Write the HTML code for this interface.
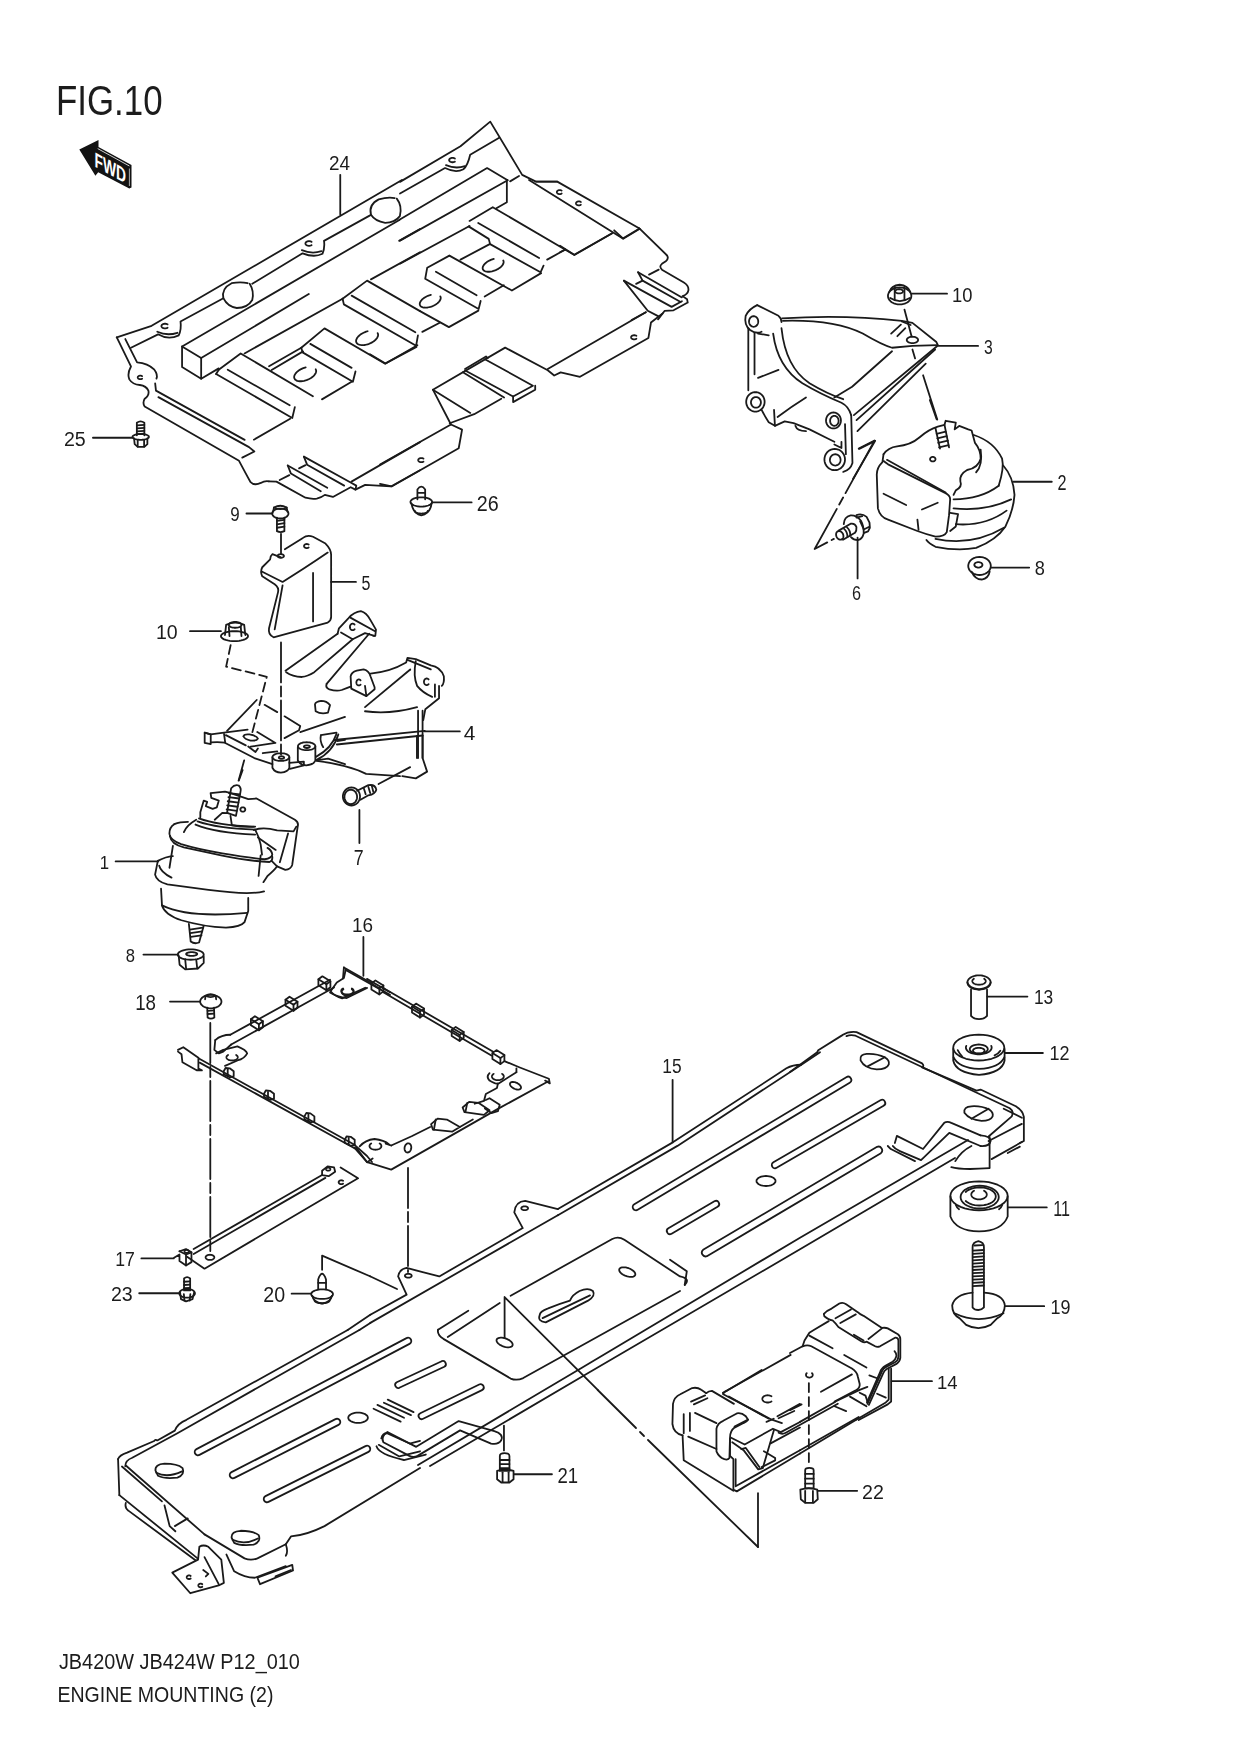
<!DOCTYPE html>
<html><head><meta charset="utf-8">
<style>
html,body{margin:0;padding:0;background:#fff;width:1240px;height:1754px;overflow:hidden}
svg{display:block}
text{font-family:"Liberation Sans",sans-serif;fill:#1a1a1a}
#labels,#texts,#fwd{opacity:0.99}
.l{fill:none;stroke:#1a1a1a;stroke-width:1.8;stroke-linejoin:round;stroke-linecap:round}
.l *{vector-effect:non-scaling-stroke}
.f{fill:#fff}
.t{stroke-width:1.5}
.dl{stroke-dasharray:60 5 8 5}
.dsh{stroke-dasharray:9 5}
.dd{stroke-dasharray:40 4 10 4}
</style></head><body>
<svg width="1240" height="1754" viewBox="0 0 1240 1754">
<g id="texts">
<text transform="translate(56,114.7) scale(1.0001)" font-size="42" textLength="106.6" lengthAdjust="spacingAndGlyphs">FIG.10</text>
<text transform="translate(58.9,1669.2) scale(1.0001)" font-size="21.8" textLength="241" lengthAdjust="spacingAndGlyphs">JB420W JB424W P12_010</text>
<text transform="translate(57.4,1702.1) scale(1.0001)" font-size="21.8" textLength="216" lengthAdjust="spacingAndGlyphs">ENGINE MOUNTING (2)</text>
</g>

<g id="fwd">
<polygon points="79.3,149.4 98.5,140.1 98.5,146.9 131.5,164.9 131.5,187.5 129.3,188.6 98.2,172.3 95.4,175.7" fill="#111"/>
<line x1="97.7" y1="148.6" x2="129.4" y2="166" stroke="#fff" stroke-width="0.8"/>
<line x1="129.4" y1="168.5" x2="129.4" y2="186" stroke="#bbb" stroke-width="0.9"/>
<g transform="translate(94.6,166.4) skewY(28.7) scale(1.0001)"><text x="0" y="0" font-size="21" font-weight="bold" textLength="31.5" lengthAdjust="spacingAndGlyphs" style="fill:#fff">FWD</text></g>
</g>

<g class="l">
<g transform="translate(100,180) scale(0.258065)">
<path d="M1170,0 L200,565 L65,610"/>
<path d="M120,650 L225,598 Q265,622 305,602 Q316,580 312,548 L478,458"/>
<path d="M478,458 Q470,420 510,400 Q545,394 572,400 M580,402 Q598,430 590,465 Q572,496 530,496 Q495,492 478,458"/>
<path d="M590,402 L785,284 Q830,302 862,286 Q872,262 868,236 L1050,135"/>
<path d="M1050,135 Q1040,95 1080,75 Q1115,65 1142,70 M1150,72 Q1172,100 1162,140 Q1142,166 1105,166 Q1066,160 1050,135"/>
<path d="M261.9,572.4 L260.5,573.1 L259.0,573.8 L257.4,574.3 L255.6,574.7 L253.8,574.9 L252.0,575.0 L250.2,574.9 L248.4,574.7 L246.6,574.3 L245.0,573.8 L243.5,573.1 L242.1,572.4 L240.9,571.5 L239.9,570.5 L239.1,569.4 L238.5,568.3 L238.1,567.2 L238.0,566.0 L238.1,564.8 L238.5,563.7 L239.1,562.6 L239.9,561.5 L240.9,560.5 L242.1,559.6 L243.5,558.9 L245.0,558.2 L246.6,557.7 L248.4,557.3 L250.2,557.1 L252.0,557.0 L253.8,557.1 L255.6,557.3 L257.4,557.7 L259.0,558.2 L260.5,558.9 L261.9,559.6"/>
<path d="M819.9,252.4 L818.5,253.1 L817.0,253.8 L815.4,254.3 L813.6,254.7 L811.8,254.9 L810.0,255.0 L808.2,254.9 L806.4,254.7 L804.6,254.3 L803.0,253.8 L801.5,253.1 L800.1,252.4 L798.9,251.5 L797.9,250.5 L797.1,249.4 L796.5,248.3 L796.1,247.2 L796.0,246.0 L796.1,244.8 L796.5,243.7 L797.1,242.6 L797.9,241.5 L798.9,240.5 L800.1,239.6 L801.5,238.9 L803.0,238.2 L804.6,237.7 L806.4,237.3 L808.2,237.1 L810.0,237.0 L811.8,237.1 L813.6,237.3 L815.4,237.7 L817.0,238.2 L818.5,238.9 L819.9,239.6"/>
<path d="M222,588 Q260,605 300,592"/>
<path d="M782,272 Q820,288 858,276"/>
<path d="M318,645 L392,690 L392,770 L318,725 Z"/>
<path d="M318,645 L1160,155"/>
<path d="M392,690 L809,442"/>
<path d="M1159,236 L1240,190"/>
<path d="M392,770 L460,730"/>
<path d="M560,672 L940,460"/>
<path d="M1050,385 L1240,280"/>
<path d="M460,735 L545,672 L825,838"/>
<path d="M450,752 L745,922 L755,880"/>
<path d="M460,735 L450,752"/>
<path d="M495,735 L735,873"/>
<path d="M655,722 L780,650"/>
<path d="M665,736 L787,664"/>
<path d="M860,850 L975,782"/>
<path d="M835.8,733.3 L837.1,736.4 L837.7,739.7 L837.4,743.4 L836.2,747.2 L834.3,751.1 L831.5,755.0 L828.1,758.9 L824.0,762.6 L819.3,766.1 L814.1,769.3 L808.6,772.2 L802.8,774.7 L796.8,776.8 L790.8,778.3 L784.9,779.4 L779.2,779.9 L773.8,779.8 L768.8,779.2 L764.4,778.1 L760.5,776.4 L757.3,774.3 L754.9,771.7 L753.2,768.7 L752.4,765.5 L752.4,761.9 L753.3,758.1 L755.0,754.3 L757.5,750.3 L760.7,746.5 L764.6,742.7 L769.1,739.1 L774.1,735.7 L779.5,732.7 L785.2,730.1 L791.1,727.9 L797.1,726.1"/>
<path d="M1075.8,593.3 L1077.1,596.4 L1077.7,599.7 L1077.4,603.4 L1076.2,607.2 L1074.3,611.1 L1071.5,615.0 L1068.1,618.9 L1064.0,622.6 L1059.3,626.1 L1054.1,629.3 L1048.6,632.2 L1042.8,634.7 L1036.8,636.8 L1030.8,638.3 L1024.9,639.4 L1019.2,639.9 L1013.8,639.8 L1008.8,639.2 L1004.4,638.1 L1000.5,636.4 L997.3,634.3 L994.9,631.7 L993.2,628.7 L992.4,625.5 L992.4,621.9 L993.3,618.1 L995.0,614.3 L997.5,610.3 L1000.7,606.5 L1004.6,602.7 L1009.1,599.1 L1014.1,595.7 L1019.5,592.7 L1025.2,590.1 L1031.1,587.9 L1037.1,586.1"/>
<path d="M780,650 L870,575 L1105,712 L1230,640"/>
<path d="M780,650 L785,668 L980,782 L990,742"/>
<path d="M815,635 L975,728"/>
<path d="M940,460 L1035,390 L1240,508"/>
<path d="M940,460 L945,482 L1225,642 L1232,602"/>
<path d="M975,448 L1222,590"/>
<path d="M931,-20 L931,134"/>
</g>
<g transform="translate(110,310) scale(0.161290)">
<path d="M42,170 L130,350 Q105,395 120,430 Q140,462 185,465 Q225,470 238,500 Q245,530 215,550 Q200,575 215,598 L800,935 Q840,1010 870,1065 Q895,1092 935,1072 Q958,1058 985,1062"/>
<path d="M95,180 L168,325 Q235,330 275,370 Q298,400 288,425"/>
<path d="M280,455 L285,500 L835,805"/>
<path d="M300,540 L862,850 L895,877 L820,915"/>
<path d="M199.3,425.8 L197.7,426.7 L196.0,427.5 L194.1,428.2 L192.1,428.6 L190.1,428.9 L188.0,429.0 L185.9,428.9 L183.9,428.6 L181.9,428.2 L180.0,427.5 L178.3,426.7 L176.7,425.8 L175.3,424.7 L174.1,423.5 L173.2,422.2 L172.5,420.8 L172.1,419.4 L172.0,418.0 L172.1,416.6 L172.5,415.2 L173.2,413.8 L174.1,412.5 L175.3,411.3 L176.7,410.2 L178.3,409.3 L180.0,408.5 L181.9,407.8 L183.9,407.4 L185.9,407.1 L188.0,407.0 L190.1,407.1 L192.1,407.4 L194.1,407.8 L196.0,408.5 L197.7,409.3 L199.3,410.2"/>
</g>
<g transform="translate(400,110) scale(0.241937)">
<path d="M0,297 L250,150 L373,48 L505,268 L562,296 L650,296"/>
<path d="M410,115 L290,185 Q280,230 262,245 Q230,262 186,240 L0,345"/>
<path d="M226.9,213.4 L225.5,214.1 L224.0,214.8 L222.4,215.3 L220.6,215.7 L218.8,215.9 L217.0,216.0 L215.2,215.9 L213.4,215.7 L211.6,215.3 L210.0,214.8 L208.5,214.1 L207.1,213.4 L205.9,212.5 L204.9,211.5 L204.1,210.4 L203.5,209.3 L203.1,208.2 L203.0,207.0 L203.1,205.8 L203.5,204.7 L204.1,203.6 L204.9,202.5 L205.9,201.5 L207.1,200.6 L208.5,199.9 L210.0,199.2 L211.6,198.7 L213.4,198.3 L215.2,198.1 L217.0,198.0 L218.8,198.1 L220.6,198.3 L222.4,198.7 L224.0,199.2 L225.5,199.9 L226.9,200.6"/>
<path d="M190,228 Q230,245 268,232"/>
<path d="M-2.5,454 L360,240 L445,290"/>
<path d="M445,290 L0,540"/>
<path d="M455,295 L492,273"/>
</g>
<g transform="translate(400,180) scale(0.201613)">
<path d="M530,0 L530,110 L478,140"/>
<path d="M345,228 L0,415"/>
<path d="M345,203 L460,135 L865,372 L1050,265"/>
<path d="M388,213 L690,387"/>
<path d="M340,230 L440,292 L447,318 L697,458 L712,425"/>
<path d="M730,395 L820,345"/>
<path d="M300,395 L445,318"/>
<path d="M245,375 L135,435 L125,490 L390,640 L400,600"/>
<path d="M245,375 L555,548 L700,462"/>
<path d="M178,455 L380,572"/>
<path d="M420,578 L515,522"/>
<path d="M511.9,399.2 L513.5,402.8 L514.1,406.8 L513.6,411.1 L512.1,415.6 L509.7,420.2 L506.3,424.8 L502.0,429.4 L497.0,433.9 L491.2,438.1 L484.9,442.0 L478.1,445.5 L471.0,448.5 L463.7,451.1 L456.4,453.0 L449.2,454.3 L442.3,455.0 L435.7,455.1 L429.7,454.5 L424.3,453.2 L419.6,451.4 L415.8,448.9 L412.9,445.9 L411.0,442.5 L410.0,438.6 L410.1,434.4 L411.2,430.0 L413.4,425.4 L416.4,420.8 L420.4,416.1 L425.2,411.6 L430.7,407.3 L436.9,403.3 L443.5,399.7 L450.5,396.4 L457.8,393.7 L465.1,391.6"/>
<path d="M199.9,577.2 L201.5,580.8 L202.1,584.8 L201.6,589.1 L200.1,593.6 L197.7,598.2 L194.3,602.8 L190.0,607.4 L185.0,611.9 L179.2,616.1 L172.9,620.0 L166.1,623.5 L159.0,626.5 L151.7,629.1 L144.4,631.0 L137.2,632.3 L130.3,633.0 L123.7,633.1 L117.7,632.5 L112.3,631.2 L107.6,629.4 L103.8,626.9 L100.9,623.9 L99.0,620.5 L98.0,616.6 L98.1,612.4 L99.2,608.0 L101.4,603.4 L104.4,598.8 L108.4,594.1 L113.2,589.6 L118.7,585.3 L124.9,581.3 L131.5,577.7 L138.5,574.4 L145.8,571.7 L153.1,569.6"/>
<path d="M675,8 L780,8 L1188,241"/>
<path d="M640,0 L1105,290 L1188,241"/>
<path d="M801.9,67.1 L800.5,67.9 L799.0,68.7 L797.4,69.2 L795.6,69.7 L793.8,69.9 L792.0,70.0 L790.2,69.9 L788.4,69.7 L786.6,69.2 L785.0,68.7 L783.5,67.9 L782.1,67.1 L780.9,66.1 L779.9,65.0 L779.1,63.8 L778.5,62.6 L778.1,61.3 L778.0,60.0 L778.1,58.7 L778.5,57.4 L779.1,56.2 L779.9,55.0 L780.9,53.9 L782.1,52.9 L783.5,52.1 L785.0,51.3 L786.6,50.8 L788.4,50.3 L790.2,50.1 L792.0,50.0 L793.8,50.1 L795.6,50.3 L797.4,50.8 L799.0,51.3 L800.5,52.1 L801.9,52.9"/>
<path d="M896.9,123.1 L895.5,123.9 L894.0,124.7 L892.4,125.2 L890.6,125.7 L888.8,125.9 L887.0,126.0 L885.2,125.9 L883.4,125.7 L881.6,125.2 L880.0,124.7 L878.5,123.9 L877.1,123.1 L875.9,122.1 L874.9,121.0 L874.1,119.8 L873.5,118.6 L873.1,117.3 L873.0,116.0 L873.1,114.7 L873.5,113.4 L874.1,112.2 L874.9,111.0 L875.9,109.9 L877.1,108.9 L878.5,108.1 L880.0,107.3 L881.6,106.8 L883.4,106.3 L885.2,106.1 L887.0,106.0 L888.8,106.1 L890.6,106.3 L892.4,106.8 L894.0,107.3 L895.5,108.1 L896.9,108.9"/>
</g>
<g transform="translate(560,200) scale(0.129032)">
<path d="M615,220 L830,430 Q845,455 820,475 L790,495 Q765,515 790,540 L960,640 Q1000,665 995,700 Q990,730 950,745 L985,770 L990,795 L880,855 L810,860 L760,925"/>
<path d="M420,235 L490,300 L615,225"/>
<path d="M0,355 L110,425 L405,258"/>
<path d="M0,405 L40,385"/>
<path d="M605,560 L945,755"/>
<path d="M605,560 L640,625 L935,790"/>
<path d="M495,625 L865,828 L945,785"/>
<path d="M495,625 L680,858 L760,900"/>
<path d="M590,650 L640,625"/>
<path d="M690,578 L765,540"/>
<path d="M555,930 L665,870"/>
</g>
<g transform="translate(380,280) scale(0.258065)">
<path d="M0,790 L45,800 L305,652 L318,580 L275,560 L0,715"/>
<path d="M275,560 L205,425 L485,262 L650,350 L675,370 L700,358 L775,375 L1040,225 L1050,165 L1095,130"/>
<path d="M650,345 L1030,125"/>
<path d="M270,555 L365,520 L470,460"/>
<path d="M205,425 L350,515"/>
<path d="M168.5,703.7 L167.3,704.3 L166.0,704.9 L164.6,705.4 L163.1,705.7 L161.6,705.9 L160.0,706.0 L158.4,705.9 L156.9,705.7 L155.4,705.4 L154.0,704.9 L152.7,704.3 L151.5,703.7 L150.5,702.9 L149.6,702.0 L148.9,701.1 L148.4,700.1 L148.1,699.0 L148.0,698.0 L148.1,697.0 L148.4,695.9 L148.9,694.9 L149.6,694.0 L150.5,693.1 L151.5,692.3 L152.7,691.7 L154.0,691.1 L155.4,690.6 L156.9,690.3 L158.4,690.1 L160.0,690.0 L161.6,690.1 L163.1,690.3 L164.6,690.6 L166.0,691.1 L167.3,691.7 L168.5,692.3"/>
<path d="M993.5,227.7 L992.3,228.3 L991.0,228.9 L989.6,229.4 L988.1,229.7 L986.6,229.9 L985.0,230.0 L983.4,229.9 L981.9,229.7 L980.4,229.4 L979.0,228.9 L977.7,228.3 L976.5,227.7 L975.5,226.9 L974.6,226.0 L973.9,225.1 L973.4,224.1 L973.1,223.0 L973.0,222.0 L973.1,221.0 L973.4,219.9 L973.9,218.9 L974.6,218.0 L975.5,217.1 L976.5,216.3 L977.7,215.7 L979.0,215.1 L980.4,214.6 L981.9,214.3 L983.4,214.1 L985.0,214.0 L986.6,214.1 L988.1,214.3 L989.6,214.6 L991.0,215.1 L992.3,215.7 L993.5,216.3"/>
</g>
<g transform="translate(220,380) scale(0.161290)">
<path d="M210,370 L435,240"/>
<path d="M303,628 L350,630 L530,730 Q570,740 600,735 Q630,728 650,712 L700,725 L810,665 L840,680 L900,650 L1060,660 L1240,560"/>
<path d="M420,530 L440,580 L625,690"/>
<path d="M420,530 L665,668"/>
<path d="M520,475 L540,525 L770,655"/>
<path d="M520,475 L810,635 L845,655 L840,680"/>
<path d="M815,630 L1240,385"/>
<path d="M370,620 L430,590"/>
<path d="M490,548 L530,528"/>
</g>
<g><path d="M420,311.1 L448.9,327.1 L478.4,310.6"/><path d="M422.3,331.9 L439.7,322.7"/><path d="M370,354.2 L385.5,363.4 L416.5,346.9"/><path d="M484.9,359.2 L532.9,385.7 L513.1,396.5 L465.2,370.5"/><path d="M513.1,396.5 L513.1,402.1 L535.2,389.7 L535.2,385.7"/><path d="M462.9,372.2 L504.1,397.6"/><path d="M487.7,358.1 L486,356.5 L465,369"/></g>
</g>
<g class="l">
<g transform="translate(735,275) scale(0.177431)">
<path d="M125,170 Q80,190 60,230 Q50,280 85,310 Q120,335 150,320"/>
<path d="M131.0,262.0 L130.6,267.2 L129.4,272.3 L127.5,277.0 L124.9,281.3 L121.7,285.0 L118.0,288.0 L113.9,290.2 L109.5,291.5 L105.0,292.0 L100.5,291.5 L96.1,290.2 L92.0,288.0 L88.3,285.0 L85.1,281.3 L82.5,277.0 L80.6,272.3 L79.4,267.2 L79.0,262.0 L79.4,256.8 L80.6,251.8 L82.5,247.0 L85.1,242.7 L88.3,239.0 L92.0,236.0 L96.1,233.8 L100.5,232.5 L105.0,232.0 L109.5,232.4 L113.9,233.8 L118.0,236.0 L121.7,239.0 L124.9,242.7 L127.5,247.0 L129.4,251.7 L130.6,256.7 L131.0,261.9 Z"/>
<path d="M125,170 L245,230 Q262,245 262,265"/>
<path d="M265,245 Q600,222 940,258 L1000,270 L1135,378 L1145,398"/>
<path d="M270,258 Q560,250 720,330 Q830,395 885,410 L1000,400 L1140,395"/>
<path d="M215,330 Q240,520 380,610 Q480,670 600,720 Q640,740 655,790"/>
<path d="M262,300 Q285,520 420,610 Q520,670 610,700"/>
<path d="M1140,400 L670,790"/>
<path d="M1128,420 L685,818"/>
<path d="M1075,500 L690,880"/>
<path d="M885,430 L660,630 L560,690"/>
<path d="M1032.0,366.0 L1031.5,369.1 L1030.1,372.2 L1027.7,375.0 L1024.5,377.6 L1020.6,379.8 L1016.0,381.6 L1011.0,382.9 L1005.6,383.7 L1000.0,384.0 L994.5,383.7 L989.1,382.9 L984.0,381.6 L979.4,379.8 L975.5,377.6 L972.3,375.0 L969.9,372.2 L968.5,369.1 L968.0,366.0 L968.5,362.9 L969.9,359.9 L972.3,357.0 L975.5,354.4 L979.4,352.2 L984.0,350.4 L989.0,349.1 L994.4,348.3 L1000.0,348.0 L1005.5,348.3 L1010.9,349.1 L1016.0,350.4 L1020.5,352.2 L1024.5,354.4 L1027.7,357.0 L1030.1,359.8 L1031.5,362.8 L1032.0,366.0 Z"/>
<path d="M940,262 L990,282"/>
<path d="M880,330 L935,280"/>
<path d="M915,345 L960,300"/>
<path d="M75,300 L75,650"/>
<path d="M110,330 L110,560"/>
<path d="M130,580 L245,535"/>
<path d="M130,330 L190,340"/>
<path d="M167.0,715.0 L166.2,724.5 L163.9,733.8 L160.0,742.5 L154.8,750.3 L148.4,757.1 L141.0,762.6 L132.8,766.7 L124.0,769.2 L115.0,770.0 L106.0,769.2 L97.2,766.7 L89.0,762.6 L81.6,757.2 L75.2,750.4 L70.0,742.5 L66.1,733.9 L63.8,724.6 L63.0,715.0 L63.8,705.5 L66.1,696.2 L69.9,687.5 L75.1,679.7 L81.5,672.9 L88.9,667.4 L97.2,663.3 L105.9,660.8 L114.9,660.0 L124.0,660.8 L132.7,663.3 L140.9,667.3 L148.4,672.8 L154.8,679.6 L160.0,687.4 L163.8,696.1 L166.2,705.4 L167.0,714.9 Z"/>
<path d="M146.0,718.0 L145.6,723.2 L144.3,728.3 L142.3,733.0 L139.5,737.3 L136.0,741.0 L132.0,744.0 L127.6,746.2 L122.9,747.5 L118.0,748.0 L113.2,747.5 L108.4,746.2 L104.0,744.0 L100.0,741.0 L96.6,737.3 L93.8,733.0 L91.7,728.3 L90.4,723.2 L90.0,718.0 L90.4,712.8 L91.7,707.8 L93.7,703.0 L96.5,698.7 L100.0,695.0 L104.0,692.0 L108.4,689.8 L113.1,688.5 L118.0,688.0 L122.8,688.4 L127.5,689.8 L132.0,692.0 L136.0,695.0 L139.4,698.7 L142.2,703.0 L144.3,707.7 L145.6,712.7 L146.0,717.9 Z"/>
<path d="M150,760 Q170,800 190,830 L225,850 L280,825 L330,835 L420,870 L520,920 L560,940"/>
<path d="M220,760 L225,850"/>
<path d="M240,800 Q320,740 400,690"/>
<path d="M597.0,820.0 L596.4,827.8 L594.5,835.4 L591.4,842.5 L587.2,848.9 L582.0,854.5 L576.0,859.0 L569.4,862.3 L562.3,864.3 L555.0,865.0 L547.7,864.3 L540.7,862.3 L534.0,859.0 L528.0,854.5 L522.8,848.9 L518.6,842.5 L515.5,835.4 L513.6,827.9 L513.0,820.0 L513.6,812.2 L515.5,804.7 L518.6,797.5 L522.8,791.1 L528.0,785.6 L534.0,781.1 L540.6,777.7 L547.7,775.7 L554.9,775.0 L562.2,775.7 L569.3,777.7 L575.9,781.0 L581.9,785.5 L587.1,791.0 L591.3,797.4 L594.4,804.5 L596.3,812.1 L597.0,819.9 Z"/>
<path d="M584.0,822.0 L583.6,826.9 L582.6,831.6 L580.8,836.0 L578.4,840.0 L575.4,843.4 L572.0,846.2 L568.2,848.3 L564.2,849.6 L560.0,850.0 L555.8,849.6 L551.8,848.3 L548.0,846.3 L544.6,843.5 L541.6,840.0 L539.2,836.0 L537.5,831.6 L536.4,826.9 L536.0,822.0 L536.4,817.2 L537.4,812.4 L539.2,808.0 L541.6,804.0 L544.6,800.6 L548.0,797.8 L551.8,795.7 L555.8,794.4 L560.0,794.0 L564.1,794.4 L568.2,795.7 L572.0,797.7 L575.4,800.5 L578.4,804.0 L580.8,808.0 L582.5,812.4 L583.6,817.1 L584.0,822.0 Z"/>
<path d="M620.0,1040.0 L619.1,1050.4 L616.5,1060.5 L612.2,1070.0 L606.4,1078.6 L599.3,1086.0 L591.0,1092.0 L581.9,1096.4 L572.1,1099.1 L562.0,1100.0 L552.0,1099.1 L542.2,1096.4 L533.0,1092.0 L524.7,1086.0 L517.6,1078.6 L511.8,1070.0 L507.5,1060.6 L504.9,1050.5 L504.0,1040.1 L504.9,1029.6 L507.5,1019.5 L511.7,1010.1 L517.5,1001.5 L524.7,994.1 L532.9,988.1 L542.1,983.6 L551.9,980.9 L561.9,980.0 L572.0,980.9 L581.8,983.6 L590.9,988.0 L599.2,994.0 L606.4,1001.4 L612.2,1009.9 L616.5,1019.4 L619.1,1029.5 L620.0,1039.9 Z"/>
<path d="M595.0,1042.0 L594.5,1047.6 L593.2,1052.9 L591.0,1058.0 L588.0,1062.6 L584.3,1066.5 L580.0,1069.7 L575.3,1072.1 L570.2,1073.5 L565.0,1074.0 L559.8,1073.5 L554.8,1072.1 L550.0,1069.7 L545.7,1066.5 L542.0,1062.6 L539.0,1058.0 L536.8,1053.0 L535.5,1047.6 L535.0,1042.0 L535.5,1036.5 L536.8,1031.1 L539.0,1026.0 L542.0,1021.5 L545.7,1017.5 L550.0,1014.3 L554.7,1011.9 L559.8,1010.5 L565.0,1010.0 L570.2,1010.5 L575.2,1011.9 L580.0,1014.3 L584.2,1017.5 L588.0,1021.4 L591.0,1026.0 L593.2,1031.0 L594.5,1036.4 L595.0,1041.9 Z"/>
<path d="M655,790 L662,1060 Q650,1100 610,1110"/>
<path d="M600,940 L600,975 L560,955"/>
<path d="M620,840 L625,1010"/>
<path d="M340,850 Q350,880 400,880"/>
<path d="M955,195 L995,345"/>
<path d="M1150,400 L1370,400"/>
<path d="M1000,420 L1015,470"/>
<path d="M1060,565 L1140,815"/>
<path d="M665,1150 L790,935 L700,980"/>
</g>
<g transform="translate(735,275) scale(0.177431)">
<path d="M994.0,118.0 L993.0,126.3 L990.0,134.4 L985.2,142.0 L978.6,148.8 L970.4,154.8 L961.0,159.6 L950.6,163.1 L939.5,165.3 L928.0,166.0 L916.6,165.3 L905.5,163.1 L895.0,159.6 L885.6,154.8 L877.5,148.9 L870.9,142.0 L866.0,134.5 L863.0,126.4 L862.0,118.0 L863.0,109.7 L866.0,101.6 L870.8,94.0 L877.4,87.2 L885.5,81.3 L894.9,76.5 L905.4,72.9 L916.5,70.7 L927.9,70.0 L939.4,70.7 L950.5,72.9 L960.9,76.4 L970.3,81.2 L978.5,87.1 L985.1,93.9 L990.0,101.5 L993.0,109.6 L994.0,117.9 Z"/>
<path d="M870,95 Q880,60 928,55 Q975,60 988,95"/>
<path d="M947.0,92.0 L946.7,94.1 L945.7,96.1 L944.1,98.0 L941.9,99.7 L939.1,101.2 L936.0,102.4 L932.5,103.3 L928.8,103.8 L925.0,104.0 L921.2,103.8 L917.5,103.3 L914.0,102.4 L910.9,101.2 L908.2,99.7 L906.0,98.0 L904.3,96.1 L903.3,94.1 L903.0,92.0 L903.3,89.9 L904.3,87.9 L905.9,86.0 L908.1,84.3 L910.8,82.8 L914.0,81.6 L917.5,80.7 L921.2,80.2 L925.0,80.0 L928.8,80.2 L932.5,80.7 L936.0,81.6 L939.1,82.8 L941.8,84.3 L944.0,86.0 L945.7,87.9 L946.7,89.9 L947.0,92.0 Z"/>
<path d="M875,130 Q928,165 985,130"/>
<path d="M900,70 L900,140"/>
<path d="M955,70 L955,140"/>
<path d="M995,105 L1195,105"/>
</g>
<g transform="translate(800,400) scale(0.225805)">
<path d="M370,240 Q390,210 430,205 Q490,200 530,165 Q570,130 610,118 L640,110 L645,92 L690,100 L685,130 L705,115 L745,130 L760,135 L775,190 Q800,220 800,260 Q790,300 740,310 Q705,330 710,360 Q720,385 690,400 L680,420"/>
<path d="M370,240 L365,275 Q340,300 340,330 L345,480 Q355,520 390,530 L520,580 Q560,595 600,605 Q640,605 650,585 L660,510 L665,440 Q665,420 640,410 L390,285 Q375,275 370,270"/>
<path d="M385,265 L645,410"/>
<path d="M370,415 L470,465"/>
<path d="M540,485 L610,455"/>
<path d="M520,530 L525,575"/>
<path d="M770,155 Q860,185 895,260 Q905,300 880,380"/>
<path d="M800,220 Q810,290 780,320"/>
<path d="M900,290 Q945,340 950,420 Q945,490 910,560 Q870,620 780,655 Q700,670 600,650 Q570,635 560,620"/>
<path d="M680,440 Q800,440 880,380"/>
<path d="M680,480 Q820,495 935,440"/>
<path d="M690,550 Q820,560 915,490"/>
<path d="M600,615 Q760,650 905,565"/>
<path d="M665,500 L700,505 L690,560 L665,580"/>
<path d="M600,125 L620,215"/>
<path d="M640,110 L660,210"/>
<path d="M605,150 L645,140"/>
<path d="M608,170 L650,160"/>
<path d="M612,190 L655,180"/>
<path d="M616,210 L658,200"/>
<path d="M600.0,262.0 L599.8,263.7 L599.3,265.4 L598.4,267.0 L597.2,268.4 L595.7,269.7 L594.0,270.7 L592.1,271.4 L590.1,271.8 L588.0,272.0 L585.9,271.8 L583.9,271.4 L582.0,270.7 L580.3,269.7 L578.8,268.4 L577.6,267.0 L576.7,265.4 L576.2,263.7 L576.0,262.0 L576.2,260.3 L576.7,258.6 L577.6,257.0 L578.8,255.6 L580.3,254.3 L582.0,253.3 L583.9,252.6 L585.9,252.2 L588.0,252.0 L590.1,252.1 L592.1,252.6 L594.0,253.3 L595.7,254.3 L597.2,255.6 L598.4,257.0 L599.3,258.6 L599.8,260.2 L600.0,262.0 Z"/>
<path d="M945,362 L1115,362"/>
<path d="M575,0 L605,85"/>
<path d="M255,610 L255,790"/>
<path class="dl" d="M330,180 L65,660 L150,615"/>
<path class="dl" d="M330,180 L260,215"/>
<path d="M845.0,735.0 L844.2,741.9 L842.0,748.7 L838.3,755.0 L833.3,760.7 L827.1,765.6 L820.0,769.6 L812.1,772.6 L803.7,774.4 L795.0,775.0 L786.3,774.4 L777.9,772.6 L770.0,769.7 L762.9,765.7 L756.7,760.7 L751.7,755.0 L748.0,748.7 L745.8,742.0 L745.0,735.0 L745.8,728.1 L748.0,721.4 L751.7,715.0 L756.7,709.3 L762.8,704.4 L769.9,700.4 L777.8,697.4 L786.3,695.6 L794.9,695.0 L803.6,695.6 L812.0,697.4 L819.9,700.3 L827.1,704.3 L833.3,709.2 L838.3,714.9 L842.0,721.3 L844.2,728.0 L845.0,734.9 Z"/>
<path d="M808.0,730.0 L807.7,732.1 L806.9,734.1 L805.6,736.0 L803.8,737.7 L801.6,739.2 L799.0,740.4 L796.2,741.3 L793.1,741.8 L790.0,742.0 L786.9,741.8 L783.9,741.3 L781.0,740.4 L778.4,739.2 L776.2,737.7 L774.4,736.0 L773.1,734.1 L772.3,732.1 L772.0,730.0 L772.3,727.9 L773.1,725.9 L774.4,724.0 L776.2,722.3 L778.4,720.8 L781.0,719.6 L783.8,718.7 L786.9,718.2 L790.0,718.0 L793.1,718.2 L796.1,718.7 L799.0,719.6 L801.5,720.8 L803.8,722.3 L805.6,724.0 L806.9,725.9 L807.7,727.9 L808.0,730.0 Z"/>
<path d="M760,760 Q775,795 805,795 Q835,790 840,760"/>
<path d="M845,742 L1015,742"/>
</g>
<g transform="translate(810,490) scale(0.072569)">
<path d="M465,470 Q470,370 560,350 Q640,345 700,420 Q745,500 740,600 Q720,680 660,690 Q600,690 565,650"/>
<path d="M640,345 Q720,320 780,370 L820,450 L825,520 L800,570 L745,590"/>
<path d="M640,380 L720,360"/>
<path d="M740,545 L810,510"/>
<path d="M690,430 L740,540"/>
<path d="M453.5,604.7 L457.4,614.8 L459.8,625.2 L460.8,635.5 L460.2,645.6 L458.0,655.0 L454.5,663.5 L449.5,670.9 L443.4,676.8 L436.2,681.2 L428.3,683.9 L419.8,684.7 L411.0,683.8 L402.1,681.1 L393.6,676.7 L385.5,670.7 L378.1,663.3 L371.7,654.8 L366.5,645.3 L362.6,635.3 L360.2,624.9 L359.2,614.5 L359.8,604.5 L361.9,595.1 L365.5,586.5 L370.5,579.2 L376.6,573.2 L383.7,568.8 L391.7,566.2 L400.2,565.3 L409.0,566.2 L417.8,568.9 L426.4,573.3 L434.5,579.3 L441.9,586.6 L448.2,595.2 L453.5,604.6 Z"/>
<path d="M395,560 L560,465 Q620,455 640,510 Q645,560 620,590 L455,685"/>
<path d="M470,535 Q520,580 515,650"/>
<path d="M510,515 Q560,560 555,630"/>
</g>
</g>
<g class="l">
<g transform="translate(190,495) scale(0.225805)">
<path d="M436.0,82.0 L435.5,85.8 L433.8,89.5 L431.2,93.0 L427.6,96.1 L423.1,98.8 L418.0,101.0 L412.3,102.7 L406.3,103.7 L400.0,104.0 L393.8,103.7 L387.7,102.7 L382.0,101.1 L376.9,98.9 L372.4,96.2 L368.8,93.0 L366.2,89.5 L364.6,85.8 L364.0,82.0 L364.5,78.2 L366.2,74.5 L368.8,71.0 L372.4,67.9 L376.8,65.2 L382.0,63.0 L387.6,61.3 L393.7,60.3 L400.0,60.0 L406.2,60.3 L412.3,61.3 L418.0,62.9 L423.1,65.1 L427.5,67.8 L431.1,71.0 L433.8,74.4 L435.4,78.1 L436.0,82.0 Z"/>
<path d="M368,75 L372,55 Q400,40 428,55 L432,75"/>
<path d="M372,55 Q400,70 428,55"/>
<path d="M385,100 L385,160 Q400,168 418,160 L418,100"/>
<path d="M385,115 L418,110"/>
<path d="M385,130 L418,125"/>
<path d="M385,145 L418,140"/>
<path d="M250,82 L365,82"/>
<path d="M403,172 L403,262"/>
<path d="M420,240 L500,190 Q520,175 545,185 L600,215 Q625,240 625,265 L625,540 Q625,555 610,565 L370,630 Q345,620 350,590 L390,430 Q395,410 375,395 L320,360 Q310,340 320,320 L355,285 Q355,270 365,262 L400,275"/>
<path d="M416.0,270.0 L415.8,271.4 L415.2,272.7 L414.1,274.0 L412.7,275.1 L411.0,276.1 L409.0,276.9 L406.8,277.5 L404.4,277.9 L402.0,278.0 L399.6,277.9 L397.2,277.5 L395.0,276.9 L393.0,276.1 L391.3,275.1 L389.9,274.0 L388.8,272.7 L388.2,271.4 L388.0,270.0 L388.2,268.6 L388.8,267.3 L389.9,266.0 L391.3,264.9 L393.0,263.9 L395.0,263.1 L397.2,262.5 L399.6,262.1 L402.0,262.0 L404.4,262.1 L406.8,262.5 L409.0,263.1 L411.0,263.9 L412.7,264.8 L414.1,266.0 L415.1,267.3 L415.8,268.6 L416.0,270.0 Z"/>
<path d="M525.5,232.4 L524.3,233.1 L523.0,233.8 L521.6,234.3 L520.1,234.7 L518.6,234.9 L517.0,235.0 L515.4,234.9 L513.9,234.7 L512.4,234.3 L511.0,233.8 L509.7,233.1 L508.5,232.4 L507.5,231.5 L506.6,230.5 L505.9,229.4 L505.4,228.3 L505.1,227.2 L505.0,226.0 L505.1,224.8 L505.4,223.7 L505.9,222.6 L506.6,221.5 L507.5,220.5 L508.5,219.6 L509.7,218.9 L511.0,218.2 L512.4,217.7 L513.9,217.3 L515.4,217.1 L517.0,217.0 L518.6,217.1 L520.1,217.3 L521.6,217.7 L523.0,218.2 L524.3,218.9 L525.5,219.6"/>
<path d="M320,340 L410,385 Q500,330 610,255"/>
<path d="M410,400 L375,595"/>
<path d="M545,345 L545,560"/>
<path d="M625,385 L735,385"/>
<path d="M257.0,625.0 L256.1,628.8 L253.4,632.5 L249.0,636.0 L243.0,639.1 L235.6,641.8 L227.0,644.0 L217.5,645.7 L207.4,646.7 L197.0,647.0 L186.6,646.7 L176.5,645.7 L167.0,644.1 L158.5,641.9 L151.1,639.2 L145.1,636.0 L140.6,632.5 L137.9,628.8 L137.0,625.0 L137.9,621.2 L140.6,617.5 L145.0,614.0 L151.0,610.9 L158.4,608.2 L166.9,606.0 L176.4,604.3 L186.5,603.3 L196.9,603.0 L207.3,603.3 L217.4,604.3 L226.9,605.9 L235.5,608.1 L242.9,610.8 L248.9,614.0 L253.3,617.4 L256.1,621.1 L257.0,625.0 Z"/>
<path d="M155,620 L160,575 Q200,555 240,575 L245,620"/>
<path d="M228.0,575.0 L227.6,577.3 L226.3,579.4 L224.3,581.5 L221.5,583.4 L218.0,585.0 L214.0,586.3 L209.6,587.2 L204.9,587.8 L200.0,588.0 L195.2,587.8 L190.4,587.2 L186.0,586.3 L182.0,585.0 L178.6,583.4 L175.8,581.5 L173.7,579.5 L172.4,577.3 L172.0,575.0 L172.4,572.8 L173.7,570.6 L175.7,568.5 L178.5,566.7 L182.0,565.1 L186.0,563.7 L190.4,562.8 L195.1,562.2 L200.0,562.0 L204.8,562.2 L209.5,562.8 L214.0,563.7 L218.0,565.0 L221.4,566.6 L224.2,568.5 L226.3,570.5 L227.6,572.7 L228.0,575.0 Z"/>
<path d="M172,585 L175,625"/>
<path d="M225,585 L228,625"/>
<path d="M0,603 L137,603"/>
</g>
<g transform="translate(190,600) scale(0.225805)">
<path class="dsh" d="M180,200 L160,295 L340,340 L275,590"/>
<path class="dd" d="M403,188 L403,692"/>
<path d="M1010,490 L1010,700"/>
<path d="M1030,490 L1030,700 L1050,760 L1000,790 L940,780"/>
<path d="M640,620 L1040,580"/>
<path d="M650,640 L1030,600"/>
<path d="M1005,602 L1005,700"/>
<path d="M1030,600 L1030,700"/>
<path d="M560,712 Q700,730 780,770 L930,780"/>
<path d="M240,710 L215,800"/>
<path d="M1040,582 L1195,582"/>
<path d="M753.0,870.0 L752.4,876.9 L750.7,883.7 L747.9,890.0 L744.1,895.7 L739.4,900.6 L734.0,904.6 L728.0,907.6 L721.6,909.4 L715.0,910.0 L708.4,909.4 L702.0,907.6 L696.0,904.7 L690.6,900.7 L685.9,895.7 L682.1,890.0 L679.3,883.7 L677.6,877.0 L677.0,870.0 L677.6,863.1 L679.3,856.4 L682.1,850.0 L685.9,844.3 L690.5,839.4 L696.0,835.4 L702.0,832.4 L708.4,830.6 L715.0,830.0 L721.5,830.6 L727.9,832.4 L734.0,835.3 L739.4,839.3 L744.1,844.2 L747.9,849.9 L750.7,856.3 L752.4,863.0 L753.0,869.9 Z"/>
<path d="M740.0,872.0 L739.6,877.6 L738.3,882.9 L736.3,888.0 L733.5,892.6 L730.0,896.5 L726.0,899.7 L721.6,902.1 L716.9,903.5 L712.0,904.0 L707.2,903.5 L702.4,902.1 L698.0,899.7 L694.0,896.5 L690.6,892.6 L687.8,888.0 L685.7,883.0 L684.4,877.6 L684.0,872.0 L684.4,866.5 L685.7,861.1 L687.7,856.0 L690.5,851.5 L694.0,847.5 L698.0,844.3 L702.4,841.9 L707.1,840.5 L712.0,840.0 L716.8,840.5 L721.5,841.9 L726.0,844.3 L730.0,847.5 L733.4,851.4 L736.2,856.0 L738.3,861.0 L739.6,866.4 L740.0,871.9 Z"/>
<path d="M740,845 L790,820 Q820,815 825,840 Q820,860 790,865 L755,885"/>
<path d="M770,835 L778,860"/>
<path d="M790,828 L798,855"/>
<path d="M805,822 L812,850"/>
<path d="M835,815 L975,740"/>
</g>
<g transform="translate(280,605) scale(0.137099)">
<path d="M40,480 L420,210"/>
<path d="M45,490 Q90,522 160,525 Q200,520 250,490 L530,250"/>
<path d="M420,210 L430,170 L500,95 Q540,50 590,45 Q630,55 660,110 L700,180 L695,225 L680,225"/>
<path d="M510,90 L690,190"/>
<path d="M445,200 L530,250 L620,205 L690,225"/>
<path d="M544.1,177.0 L542.2,179.0 L540.0,180.8 L537.7,182.2 L535.2,183.2 L532.6,183.8 L530.0,184.0 L527.4,183.8 L524.8,183.2 L522.3,182.2 L520.0,180.8 L517.8,179.0 L515.9,177.0 L514.1,174.6 L512.7,172.0 L511.5,169.2 L510.7,166.2 L510.2,163.1 L510.0,160.0 L510.2,156.9 L510.7,153.8 L511.5,150.8 L512.7,148.0 L514.1,145.4 L515.9,143.0 L517.8,141.0 L520.0,139.2 L522.3,137.8 L524.8,136.8 L527.4,136.2 L530.0,136.0 L532.6,136.2 L535.2,136.8 L537.7,137.8 L540.0,139.2 L542.2,141.0 L544.1,143.0"/>
<path d="M340,575 Q330,605 360,615 Q410,630 450,620 Q490,605 515,595"/>
<path d="M340,575 L650,210"/>
<path d="M515,520 Q520,490 560,478 L610,470 Q650,480 660,520 L690,600 L690,615 L630,665 L520,610 Z"/>
<path d="M587.7,580.6 L586.0,582.5 L584.0,584.1 L581.9,585.3 L579.7,586.3 L577.3,586.8 L575.0,587.0 L572.7,586.8 L570.3,586.3 L568.1,585.3 L566.0,584.1 L564.0,582.5 L562.3,580.6 L560.7,578.4 L559.4,576.0 L558.4,573.4 L557.6,570.7 L557.2,567.9 L557.0,565.0 L557.2,562.1 L557.6,559.3 L558.4,556.6 L559.4,554.0 L560.7,551.6 L562.3,549.4 L564.0,547.5 L566.0,545.9 L568.1,544.7 L570.3,543.7 L572.7,543.2 L575.0,543.0 L577.3,543.2 L579.7,543.7 L581.9,544.7 L584.0,545.9 L586.0,547.5 L587.7,549.4"/>
<path d="M620,590 L630,665"/>
<path d="M660,500 Q800,490 920,420 L930,385 L990,395 L1100,440 Q1170,450 1195,520 Q1200,570 1180,590"/>
<path d="M930,400 L1100,470"/>
<path d="M1084.1,577.0 L1082.2,579.0 L1080.0,580.8 L1077.7,582.2 L1075.2,583.2 L1072.6,583.8 L1070.0,584.0 L1067.4,583.8 L1064.8,583.2 L1062.3,582.2 L1060.0,580.8 L1057.8,579.0 L1055.9,577.0 L1054.1,574.6 L1052.7,572.0 L1051.5,569.2 L1050.7,566.2 L1050.2,563.1 L1050.0,560.0 L1050.2,556.9 L1050.7,553.8 L1051.5,550.8 L1052.7,548.0 L1054.1,545.4 L1055.9,543.0 L1057.8,541.0 L1060.0,539.2 L1062.3,537.8 L1064.8,536.8 L1067.4,536.2 L1070.0,536.0 L1072.6,536.2 L1075.2,536.8 L1077.7,537.8 L1080.0,539.2 L1082.2,541.0 L1084.1,543.0"/>
<path d="M950,470 L620,745"/>
<path d="M990,410 Q970,520 1000,590 Q1040,640 1110,670"/>
<path d="M1130,580 L1130,670"/>
<path d="M1160,590 L1160,680 L1060,760 L1045,839"/>
<path d="M620,775 Q800,800 1000,745"/>
<path d="M255,725 L260,775 Q300,800 350,785 L365,730 Q340,700 300,700 Q260,705 255,725"/>
</g>
<g transform="translate(195,700) scale(0.120963)">
<path d="M80,270 L80,355 L130,365 L130,285 Z"/>
<path d="M80,270 L130,285 L240,270 L435,245"/>
<path d="M130,350 Q200,345 245,352"/>
<path d="M265,255 L510,0"/>
<path d="M240,280 L250,355 L490,480 L640,530"/>
<path d="M255,290 L420,375"/>
<path d="M400,300 Q410,280 450,285 Q510,295 520,320 Q510,340 460,335 Q410,325 400,300"/>
<path d="M515,265 L665,355 L460,385"/>
<path d="M440,385 L500,430 L520,400"/>
<path d="M575,40 L680,100"/>
<path d="M740,135 L870,215 L860,250 L740,315"/>
<path d="M870,265 L1240,140"/>
<path d="M560,440 L680,425"/>
<path d="M640,475 L640,560 Q660,600 710,600 Q770,595 780,560 L780,475"/>
<path d="M780.0,472.0 L778.9,477.6 L775.8,482.9 L770.6,488.0 L763.6,492.6 L755.0,496.5 L745.0,499.7 L734.0,502.1 L722.2,503.5 L710.0,504.0 L697.9,503.5 L686.1,502.1 L675.0,499.7 L665.0,496.5 L656.4,492.6 L649.4,488.0 L644.2,483.0 L641.1,477.6 L640.0,472.0 L641.1,466.5 L644.2,461.1 L649.3,456.0 L656.3,451.5 L664.9,447.5 L674.9,444.3 L686.0,441.9 L697.8,440.5 L709.9,440.0 L722.1,440.5 L733.8,441.9 L744.9,444.3 L754.9,447.5 L763.6,451.4 L770.6,456.0 L775.7,461.0 L778.9,466.4 L780.0,471.9 Z"/>
<path d="M737.0,476.0 L736.7,477.9 L735.7,479.8 L734.1,481.5 L731.9,483.1 L729.1,484.4 L726.0,485.5 L722.5,486.3 L718.8,486.8 L715.0,487.0 L711.2,486.8 L707.5,486.3 L704.0,485.5 L700.9,484.4 L698.2,483.1 L696.0,481.5 L694.3,479.8 L693.3,477.9 L693.0,476.0 L693.3,474.1 L694.3,472.2 L695.9,470.5 L698.1,468.9 L700.8,467.6 L704.0,466.5 L707.5,465.7 L711.2,465.2 L715.0,465.0 L718.8,465.2 L722.5,465.7 L726.0,466.5 L729.1,467.6 L731.8,468.9 L734.0,470.5 L735.7,472.2 L736.7,474.1 L737.0,476.0 Z"/>
<path d="M850,390 L850,500 Q870,540 920,540 Q980,535 995,500 L995,385"/>
<path d="M995.0,382.0 L993.9,387.7 L990.7,393.3 L985.4,398.5 L978.2,403.2 L969.3,407.3 L959.0,410.6 L947.6,413.0 L935.5,414.5 L923.0,415.0 L910.5,414.5 L898.4,413.0 L887.0,410.6 L876.8,407.3 L867.9,403.2 L860.7,398.5 L855.4,393.3 L852.1,387.8 L851.0,382.0 L852.1,376.3 L855.3,370.7 L860.6,365.5 L867.8,360.8 L876.7,356.7 L886.9,353.4 L898.3,351.0 L910.4,349.5 L922.9,349.0 L935.4,349.5 L947.5,351.0 L958.9,353.4 L969.2,356.7 L978.1,360.7 L985.3,365.5 L990.6,370.7 L993.9,376.2 L995.0,381.9 Z"/>
<path d="M950.0,386.0 L949.6,387.9 L948.5,389.8 L946.7,391.5 L944.2,393.1 L941.1,394.4 L937.5,395.5 L933.6,396.3 L929.4,396.8 L925.0,397.0 L920.7,396.8 L916.5,396.3 L912.5,395.5 L908.9,394.4 L905.9,393.1 L903.4,391.5 L901.5,389.8 L900.4,387.9 L900.0,386.0 L900.4,384.1 L901.5,382.2 L903.3,380.5 L905.8,378.9 L908.9,377.6 L912.5,376.5 L916.4,375.7 L920.6,375.2 L925.0,375.0 L929.3,375.2 L933.5,375.7 L937.5,376.5 L941.0,377.6 L944.1,378.9 L946.6,380.5 L948.5,382.2 L949.6,384.1 L950.0,386.0 Z"/>
<path d="M780,520 L900,510 L900,540 L785,570"/>
<path d="M1000,470 Q1130,400 1170,280"/>
<path d="M1005,495 Q1140,430 1185,285"/>
<path d="M1040,290 L1170,270"/>
<path d="M1040,295 Q1030,340 1060,390"/>
<path d="M1000,500 L1100,485 L1240,530"/>
<path d="M1240,330 L1175,340"/>
</g>
<g transform="translate(85,770) scale(0.185494)">
<path d="M410,640 L415,730 Q430,780 520,810 Q640,845 760,850 Q840,845 860,820 L880,760 L880,690"/>
<path d="M415,730 Q560,800 875,770"/>
<path d="M560,830 L570,925 Q590,940 615,930 L640,840"/>
<path d="M565,860 L635,850"/>
<path d="M568,880 L632,870"/>
<path d="M570,900 L628,892"/>
<path d="M165,493 L395,493"/>
<path d="M850,0 L830,55"/>
<path d="M640.0,995.0 L638.9,999.9 L635.8,1004.6 L630.6,1009.0 L623.6,1013.0 L615.0,1016.4 L605.0,1019.2 L594.0,1021.3 L582.2,1022.6 L570.0,1023.0 L557.9,1022.6 L546.1,1021.3 L535.0,1019.3 L525.0,1016.5 L516.4,1013.0 L509.4,1009.0 L504.2,1004.6 L501.1,999.9 L500.0,995.0 L501.1,990.2 L504.2,985.4 L509.3,981.0 L516.3,977.0 L524.9,973.6 L534.9,970.8 L546.0,968.7 L557.8,967.4 L569.9,967.0 L582.1,967.4 L593.8,968.7 L604.9,970.7 L614.9,973.5 L623.6,977.0 L630.6,981.0 L635.7,985.4 L638.9,990.1 L640.0,995.0 Z"/>
<path d="M605.0,992.0 L604.5,993.7 L603.2,995.4 L601.0,997.0 L598.0,998.4 L594.3,999.7 L590.0,1000.7 L585.3,1001.4 L580.2,1001.8 L575.0,1002.0 L569.8,1001.8 L564.8,1001.4 L560.0,1000.7 L555.7,999.7 L552.0,998.4 L549.0,997.0 L546.8,995.4 L545.5,993.7 L545.0,992.0 L545.5,990.3 L546.8,988.6 L549.0,987.0 L552.0,985.6 L555.7,984.3 L560.0,983.3 L564.7,982.6 L569.8,982.2 L575.0,982.0 L580.2,982.1 L585.2,982.6 L590.0,983.3 L594.2,984.3 L598.0,985.6 L601.0,987.0 L603.2,988.6 L604.5,990.2 L605.0,992.0 Z"/>
<path d="M505,1000 L510,1050 L540,1075 L610,1070 L640,1040 L640,1005"/>
<path d="M540,1020 L545,1070"/>
<path d="M600,1025 L605,1070"/>
<path d="M315,995 L500,995"/>
</g>
<g transform="translate(140,780) scale(0.137099)">
<path d="M250,322 Q290,305 350,305"/>
<path d="M250,322 Q212,345 215,395 Q222,440 300,468 Q420,505 600,535 Q800,568 910,578 Q960,570 965,545 Q962,515 930,495"/>
<path d="M218,410 Q228,470 320,492 L600,552 Q800,592 945,598 Q968,590 965,560"/>
<path d="M320,380 Q340,330 410,290"/>
<path d="M430,280 Q560,330 830,340"/>
<path d="M420,302 Q560,352 840,362"/>
<path d="M405,325 Q550,385 840,398"/>
<path d="M840,362 Q870,420 880,470 L890,545"/>
<path d="M240,480 L215,640"/>
<path d="M880,550 L865,700"/>
<path d="M130,590 Q190,558 240,555"/>
<path d="M130,590 L110,690 Q120,740 200,762 L500,802 Q800,842 905,812"/>
<path d="M140,625 Q150,670 230,712"/>
<path d="M440,272 L440,235 L465,150 L490,160 L480,190 L530,210 L560,200 L575,150 L520,130 L515,95 L620,85 L650,92"/>
<path d="M545,290 L600,240 L640,242"/>
<path d="M660,262 L670,330"/>
<path d="M635,240 L665,60 Q690,30 720,40 Q742,60 732,92 L700,262 Z"/>
<path d="M650,95 L728,105"/>
<path d="M645,125 L724,135"/>
<path d="M640,155 L718,165"/>
<path d="M636,185 L712,195"/>
<path d="M632,215 L706,225"/>
<path d="M768.0,215.0 L767.7,217.8 L766.9,220.5 L765.6,223.0 L763.8,225.3 L761.6,227.3 L759.0,228.9 L756.2,230.0 L753.1,230.8 L750.0,231.0 L746.9,230.8 L743.9,230.0 L741.0,228.9 L738.4,227.3 L736.2,225.3 L734.4,223.0 L733.1,220.5 L732.3,217.8 L732.0,215.0 L732.3,212.2 L733.1,209.5 L734.4,207.0 L736.2,204.7 L738.4,202.8 L741.0,201.2 L743.8,200.0 L746.9,199.2 L750.0,199.0 L753.1,199.2 L756.1,200.0 L759.0,201.1 L761.5,202.7 L763.8,204.7 L765.6,207.0 L766.9,209.5 L767.7,212.2 L768.0,215.0 Z"/>
<path d="M650,92 L790,140 L850,135 L1130,290 Q1160,310 1150,340 L1110,620 Q1100,652 1060,655 L1000,630 L960,590"/>
<path d="M1000,630 Q980,660 930,700 L900,745"/>
<path d="M830,365 Q900,340 1000,368 L1120,375 L1140,340"/>
<path d="M1080,390 L1020,600"/>
<path d="M860,420 L990,510"/>
<path d="M670,330 Q750,345 840,340"/>
</g>
</g>
<g class="l">
<g transform="translate(170,970) scale(0.177431)">
<path d="M290.0,178.0 L289.1,184.6 L286.4,191.0 L282.0,197.0 L276.0,202.4 L268.6,207.1 L260.0,210.9 L250.5,213.7 L240.4,215.4 L230.0,216.0 L219.6,215.4 L209.5,213.7 L200.0,210.9 L191.5,207.1 L184.1,202.4 L178.1,197.0 L173.6,191.0 L170.9,184.6 L170.0,178.0 L170.9,171.4 L173.6,165.0 L178.0,159.0 L184.0,153.6 L191.4,148.9 L199.9,145.1 L209.4,142.3 L219.5,140.6 L229.9,140.0 L240.3,140.6 L250.4,142.3 L259.9,145.1 L268.5,148.9 L275.9,153.5 L281.9,158.9 L286.3,164.9 L289.1,171.3 L290.0,177.9 Z"/>
<path d="M198,165 L200,145 Q228,128 258,145 L260,165"/>
<path d="M200,145 Q228,160 258,145"/>
<path d="M210,212 L212,268 Q230,280 250,268 L248,212"/>
<path d="M212,230 L248,228"/>
<path d="M212,248 L248,246"/>
<path d="M0,178 L168,178"/>
<path d="M255,395 Q290,365 340,365"/>
<path d="M255,395 L250,450 L275,470 L300,460 L345,420"/>
<path d="M260,470 L300,450 L380,430 Q430,450 435,470 Q420,500 380,510 L310,540"/>
<path d="M372.6,479.3 L375.4,481.0 L377.7,483.0 L379.6,485.1 L380.9,487.3 L381.7,489.7 L382.0,492.0 L381.7,494.3 L380.9,496.7 L379.6,498.9 L377.7,501.0 L375.4,503.0 L372.6,504.7 L369.5,506.3 L366.0,507.6 L362.2,508.6 L358.3,509.4 L354.2,509.8 L350.0,510.0 L345.8,509.8 L341.7,509.4 L337.8,508.6 L334.0,507.6 L330.5,506.3 L327.4,504.7 L324.6,503.0 L322.3,501.0 L320.4,498.9 L319.1,496.7 L318.3,494.3 L318.0,492.0 L318.3,489.7 L319.1,487.3 L320.4,485.1 L322.3,483.0 L324.6,481.0 L327.4,479.3"/>
<path d="M45,450 L75,435 L160,495 L160,555 L180,565 L150,565 L70,520 L65,475 L45,460"/>
<path d="M905,120 L940,70 L980,45 L990,0"/>
<path d="M1024.7,103.9 L1027.8,105.8 L1030.3,108.0 L1032.3,110.3 L1033.8,112.8 L1034.7,115.4 L1035.0,118.0 L1034.7,120.6 L1033.8,123.2 L1032.3,125.7 L1030.3,128.0 L1027.8,130.2 L1024.7,132.1 L1021.3,133.9 L1017.5,135.3 L1013.4,136.5 L1009.1,137.3 L1004.6,137.8 L1000.0,138.0 L995.4,137.8 L990.9,137.3 L986.6,136.5 L982.5,135.3 L978.7,133.9 L975.3,132.1 L972.2,130.2 L969.7,128.0 L967.7,125.7 L966.2,123.2 L965.3,120.6 L965.0,118.0 L965.3,115.4 L966.2,112.8 L967.7,110.3 L969.7,108.0 L972.2,105.8 L975.3,103.9"/>
<path d="M905,120 Q930,150 970,160 L1100,100"/>
<path d="M990,0 L1240,140"/>
<path d="M1110,50 L1240,125"/>
</g>
<g transform="translate(330,960) scale(0.185494)">
<path d="M75,40 L70,100"/>
<path d="M75,40 L225,125"/>
<path d="M0,175 Q40,200 90,205 L200,150"/>
<path d="M117.6,157.9 L120.4,159.8 L122.7,162.0 L124.6,164.3 L125.9,166.8 L126.7,169.4 L127.0,172.0 L126.7,174.6 L125.9,177.2 L124.6,179.7 L122.7,182.0 L120.4,184.2 L117.6,186.1 L114.5,187.9 L111.0,189.3 L107.2,190.5 L103.3,191.3 L99.2,191.8 L95.0,192.0 L90.8,191.8 L86.7,191.3 L82.8,190.5 L79.0,189.3 L75.5,187.9 L72.4,186.1 L69.6,184.2 L67.3,182.0 L65.4,179.7 L64.1,177.2 L63.3,174.6 L63.0,172.0 L63.3,169.4 L64.1,166.8 L65.4,164.3 L67.3,162.0 L69.6,159.8 L72.4,157.9"/>
<path d="M285,150 L880,495"/>
<path d="M285,172 L870,515"/>
<path d="M940,545 L1020,578 L1180,640 L1185,665 L1160,650"/>
<path d="M1175,655 L910,800 L700,920 L330,1130 L200,1090 L130,1010"/>
<path d="M1005,605 L905,668 L900,690 L840,722 L830,760 L780,775"/>
<path d="M1005,605 L1005,585"/>
<path d="M860,610 Q840,630 860,650 Q890,670 905,665"/>
<path d="M927.6,613.9 L930.4,615.8 L932.7,618.0 L934.6,620.3 L935.9,622.8 L936.7,625.4 L937.0,628.0 L936.7,630.6 L935.9,633.2 L934.6,635.7 L932.7,638.0 L930.4,640.2 L927.6,642.1 L924.5,643.9 L921.0,645.3 L917.2,646.5 L913.3,647.3 L909.2,647.8 L905.0,648.0 L900.8,647.8 L896.7,647.3 L892.8,646.5 L889.0,645.3 L885.5,643.9 L882.4,642.1 L879.6,640.2 L877.3,638.0 L875.4,635.7 L874.1,633.2 L873.3,630.6 L873.0,628.0 L873.3,625.4 L874.1,622.8 L875.4,620.3 L877.3,618.0 L879.6,615.8 L882.4,613.9"/>
<path d="M1029.0,691.5 L1027.3,694.0 L1024.8,696.0 L1021.5,697.4 L1017.6,698.3 L1013.1,698.5 L1008.3,698.1 L1003.2,697.1 L998.0,695.5 L992.8,693.4 L987.9,690.8 L983.3,687.9 L979.3,684.6 L975.9,681.1 L973.2,677.6 L971.3,674.0 L970.3,670.6 L970.2,667.4 L971.0,664.5 L972.7,662.0 L975.2,660.0 L978.5,658.6 L982.4,657.7 L986.8,657.5 L991.7,657.9 L996.8,658.9 L1002.0,660.5 L1007.1,662.6 L1012.1,665.2 L1016.6,668.1 L1020.7,671.4 L1024.1,674.9 L1026.8,678.4 L1028.7,682.0 L1029.7,685.4 L1029.8,688.6 L1029.0,691.5 Z"/>
<path d="M715,795 L750,765 L800,770 L860,810 L830,835 L725,820 Z"/>
<path d="M740,770 L730,820"/>
<path d="M840,755 L860,745 L915,780 L905,815 L870,825 L835,800"/>
<path d="M545,885 L580,855 L630,860 L700,900 L660,925 L555,915 Z"/>
<path d="M570,860 L560,915"/>
<path d="M700,900 L770,860"/>
<path d="M540,900 L440,950 L330,1000"/>
<path d="M300,990 L330,1000"/>
<path d="M437.7,1016.1 L436.7,1020.4 L435.2,1024.4 L433.2,1028.0 L430.8,1031.2 L428.1,1033.9 L425.1,1035.9 L422.0,1037.2 L418.8,1037.8 L415.7,1037.6 L412.7,1036.7 L409.9,1035.1 L407.4,1032.8 L405.3,1029.9 L403.6,1026.4 L402.5,1022.6 L401.9,1018.5 L401.8,1014.2 L402.3,1009.9 L403.3,1005.7 L404.8,1001.7 L406.8,998.0 L409.2,994.8 L411.9,992.1 L414.9,990.1 L418.0,988.8 L421.2,988.2 L424.3,988.4 L427.3,989.3 L430.1,990.9 L432.6,993.2 L434.7,996.1 L436.4,999.5 L437.5,1003.4 L438.1,1007.5 L438.2,1011.8 L437.7,1016.1 Z"/>
<path d="M160,1005 Q190,970 240,965 Q290,970 320,995"/>
<path d="M267.6,988.9 L270.4,990.8 L272.7,993.0 L274.6,995.3 L275.9,997.8 L276.7,1000.4 L277.0,1003.0 L276.7,1005.6 L275.9,1008.2 L274.6,1010.7 L272.7,1013.0 L270.4,1015.2 L267.6,1017.1 L264.5,1018.9 L261.0,1020.3 L257.2,1021.5 L253.3,1022.3 L249.2,1022.8 L245.0,1023.0 L240.8,1022.8 L236.7,1022.3 L232.8,1021.5 L229.0,1020.3 L225.5,1018.9 L222.4,1017.1 L219.6,1015.2 L217.3,1013.0 L215.4,1010.7 L214.1,1008.2 L213.3,1005.6 L213.0,1003.0 L213.3,1000.4 L214.1,997.8 L215.4,995.3 L217.3,993.0 L219.6,990.8 L222.4,988.9"/>
<path d="M140,1010 L200,1090 L230,1070"/>
<path d="M180,-124 L180,85"/>
</g>
<g transform="translate(100,1150) scale(0.217742)">
<path d="M400,490 L480,545 L1185,130 L1105,80"/>
<path d="M430,455 L1020,115"/>
<path d="M430,478 L1035,128"/>
<path d="M340,495 L365,480 L365,510 L395,530 L420,515 L420,470 L395,455 L365,465"/>
<path d="M365,465 L395,480 L420,470"/>
<path d="M395,480 L395,530"/>
<path d="M408.0,466.0 L407.8,467.2 L407.4,468.4 L406.7,469.5 L405.7,470.5 L404.4,471.4 L403.0,472.1 L401.4,472.6 L399.7,472.9 L398.0,473.0 L396.3,472.9 L394.6,472.6 L393.0,472.1 L391.6,471.4 L390.3,470.5 L389.3,469.5 L388.6,468.4 L388.2,467.2 L388.0,466.0 L388.2,464.8 L388.6,463.6 L389.3,462.5 L390.3,461.5 L391.6,460.6 L393.0,459.9 L394.6,459.4 L396.3,459.1 L398.0,459.0 L399.7,459.1 L401.4,459.4 L403.0,459.9 L404.4,460.6 L405.7,461.5 L406.7,462.5 L407.4,463.6 L407.8,464.8 L408.0,466.0 Z"/>
<path d="M1020,95 L1045,75 L1075,80 L1080,100 L1050,120 L1020,115 Z"/>
<path d="M1058.0,88.0 L1057.8,89.2 L1057.4,90.4 L1056.7,91.5 L1055.7,92.5 L1054.4,93.4 L1053.0,94.1 L1051.4,94.6 L1049.7,94.9 L1048.0,95.0 L1046.3,94.9 L1044.6,94.6 L1043.0,94.1 L1041.6,93.4 L1040.3,92.5 L1039.3,91.5 L1038.6,90.4 L1038.2,89.2 L1038.0,88.0 L1038.2,86.8 L1038.6,85.6 L1039.3,84.5 L1040.3,83.5 L1041.6,82.6 L1043.0,81.9 L1044.6,81.4 L1046.3,81.1 L1048.0,81.0 L1049.7,81.1 L1051.4,81.4 L1053.0,81.9 L1054.4,82.6 L1055.7,83.5 L1056.7,84.5 L1057.4,85.6 L1057.8,86.8 L1058.0,88.0 Z"/>
<path d="M1116.5,154.4 L1115.3,155.1 L1114.0,155.8 L1112.6,156.3 L1111.1,156.7 L1109.6,156.9 L1108.0,157.0 L1106.4,156.9 L1104.9,156.7 L1103.4,156.3 L1102.0,155.8 L1100.7,155.1 L1099.5,154.4 L1098.5,153.5 L1097.6,152.5 L1096.9,151.4 L1096.4,150.3 L1096.1,149.2 L1096.0,148.0 L1096.1,146.8 L1096.4,145.7 L1096.9,144.6 L1097.6,143.5 L1098.5,142.5 L1099.5,141.6 L1100.7,140.9 L1102.0,140.2 L1103.4,139.7 L1104.9,139.3 L1106.4,139.1 L1108.0,139.0 L1109.6,139.1 L1111.1,139.3 L1112.6,139.7 L1114.0,140.2 L1115.3,140.9 L1116.5,141.6"/>
<path d="M525.0,493.0 L524.7,495.1 L523.8,497.1 L522.3,499.0 L520.3,500.7 L517.9,502.2 L515.0,503.4 L511.8,504.3 L508.5,504.8 L505.0,505.0 L501.5,504.8 L498.2,504.3 L495.0,503.4 L492.2,502.2 L489.7,500.7 L487.7,499.0 L486.2,497.1 L485.3,495.1 L485.0,493.0 L485.3,490.9 L486.2,488.9 L487.7,487.0 L489.7,485.3 L492.1,483.8 L495.0,482.6 L498.1,481.7 L501.5,481.2 L505.0,481.0 L508.4,481.2 L511.8,481.7 L515.0,482.6 L517.8,483.8 L520.3,485.3 L522.3,487.0 L523.8,488.9 L524.7,490.9 L525.0,493.0 Z"/>
<path d="M190,498 L338,498"/>
<path d="M436.0,658.0 L435.5,661.5 L433.8,664.8 L431.2,668.0 L427.6,670.9 L423.1,673.3 L418.0,675.3 L412.3,676.8 L406.3,677.7 L400.0,678.0 L393.8,677.7 L387.7,676.8 L382.0,675.3 L376.9,673.3 L372.4,670.9 L368.8,668.0 L366.2,664.9 L364.6,661.5 L364.0,658.0 L364.5,654.5 L366.2,651.2 L368.8,648.0 L372.4,645.2 L376.8,642.7 L382.0,640.7 L387.6,639.2 L393.7,638.3 L400.0,638.0 L406.2,638.3 L412.3,639.2 L418.0,640.7 L423.1,642.7 L427.5,645.1 L431.1,648.0 L433.8,651.1 L435.4,654.5 L436.0,658.0 Z"/>
<path d="M368,655 L372,685 L395,695 L425,685 L432,655"/>
<path d="M385,662 L388,692"/>
<path d="M415,662 L412,692"/>
<path d="M386,590 Q400,578 414,590 L414,645 L386,645 Z"/>
<path d="M386,605 L414,603"/>
<path d="M386,620 L414,618"/>
<path d="M386,635 L414,633"/>
<path d="M180,658 L360,658"/>
<path d="M1002,640 L1002,595 Q1010,570 1020,568 Q1030,570 1038,595 L1038,640"/>
<path d="M1002,610 L1038,610"/>
<path d="M1070.0,662.0 L1069.2,665.8 L1067.0,669.5 L1063.3,673.0 L1058.3,676.1 L1052.1,678.8 L1045.0,681.0 L1037.1,682.7 L1028.7,683.7 L1020.0,684.0 L1011.3,683.7 L1002.9,682.7 L995.0,681.1 L987.9,678.9 L981.7,676.2 L976.7,673.0 L973.0,669.5 L970.8,665.8 L970.0,662.0 L970.8,658.2 L973.0,654.5 L976.7,651.0 L981.7,647.9 L987.8,645.2 L994.9,643.0 L1002.8,641.3 L1011.3,640.3 L1019.9,640.0 L1028.6,640.3 L1037.0,641.3 L1044.9,642.9 L1052.1,645.1 L1058.3,647.8 L1063.3,651.0 L1067.0,654.4 L1069.2,658.1 L1070.0,662.0 Z"/>
<path d="M975,670 Q980,700 1020,705 Q1060,700 1065,670"/>
<path d="M1055.0,690.0 L1054.9,691.2 L1054.5,692.4 L1053.8,693.6 L1052.9,694.8 L1051.7,695.9 L1050.3,697.0 L1048.7,698.0 L1046.8,699.0 L1044.7,699.9 L1042.5,700.7 L1040.1,701.5 L1037.5,702.1 L1034.8,702.7 L1032.0,703.2 L1029.1,703.5 L1026.1,703.8 L1023.1,703.9 L1020.0,704.0 L1016.9,703.9 L1013.9,703.8 L1010.9,703.5 L1008.0,703.2 L1005.2,702.7 L1002.5,702.1 L999.9,701.5 L997.5,700.7 L995.3,699.9 L993.2,699.0 L991.3,698.0 L989.7,697.0 L988.3,695.9 L987.1,694.8 L986.2,693.6 L985.5,692.4 L985.1,691.2 L985.0,690.0"/>
<path d="M880,660 L970,660"/>
<path d="M1020,550 L1020,485 L1240,580"/>
</g>
<path class="dd" d="M408,1168 L408,1272"/>
<g><path d="M230.3,1034.8 L330,979.8"/><path d="M231.2,1044.5 L334,987.5"/><path d="M371.4,983.4 L375.4,980.4 L383.4,985.4 L379.4,988.4 Z"/><path d="M371.4,983.4 L371.4,989.4 L379.4,994.4 L379.4,988.4"/><path d="M383.4,985.4 L383.4,991.4 L379.4,994.4"/><path d="M412.0,1006.6 L416.0,1003.6 L424.0,1008.6 L420.0,1011.6 Z"/><path d="M412.0,1006.6 L412.0,1012.6 L420.0,1017.6 L420.0,1011.6"/><path d="M424.0,1008.6 L424.0,1014.6 L420.0,1017.6"/><path d="M451.7,1029.9 L455.7,1026.9 L463.7,1031.9 L459.7,1034.9 Z"/><path d="M451.7,1029.9 L451.7,1035.9 L459.7,1040.9 L459.7,1034.9"/><path d="M463.7,1031.9 L463.7,1037.9 L459.7,1040.9"/><path d="M492.4,1053.1 L496.4,1050.1 L504.4,1055.1 L500.4,1058.1 Z"/><path d="M492.4,1053.1 L492.4,1059.1 L500.4,1064.1 L500.4,1058.1"/><path d="M504.4,1055.1 L504.4,1061.1 L500.4,1064.1"/><path d="M250.9,1019.2 L254.9,1016.2 L262.9,1021.2 L258.9,1024.2 Z"/><path d="M250.9,1019.2 L250.9,1025.2 L258.9,1030.2 L258.9,1024.2"/><path d="M262.9,1021.2 L262.9,1027.2 L258.9,1030.2"/><path d="M285.5,999.7 L289.5,996.7 L297.5,1001.7 L293.5,1004.7 Z"/><path d="M285.5,999.7 L285.5,1005.7 L293.5,1010.7 L293.5,1004.7"/><path d="M297.5,1001.7 L297.5,1007.7 L293.5,1010.7"/><path d="M318.4,979.3 L322.4,976.3 L330.4,981.3 L326.4,984.3 Z"/><path d="M318.4,979.3 L318.4,985.3 L326.4,990.3 L326.4,984.3"/><path d="M330.4,981.3 L330.4,987.3 L326.4,990.3"/></g>
<path class="dd" d="M210.3,1023 L210.3,1255"/>
<g><path d="M223.7,1071.3 L225.7,1067.8 L229.7,1068.3 L233.7,1071.3 L233.7,1076.3 L229.7,1077.3 L223.7,1074.3 Z"/><path d="M227.7,1069.3 L227.7,1076.3"/><path d="M264.0,1093.8 L266.0,1090.3 L270.0,1090.8 L274.0,1093.8 L274.0,1098.8 L270.0,1099.8 L264.0,1096.8 Z"/><path d="M268.0,1091.8 L268.0,1098.8"/><path d="M304.4,1116.4 L306.4,1112.9 L310.4,1113.4 L314.4,1116.4 L314.4,1121.4 L310.4,1122.4 L304.4,1119.4 Z"/><path d="M308.4,1114.4 L308.4,1121.4"/><path d="M344.7,1139.8 L346.7,1136.3 L350.7,1136.8 L354.7,1139.8 L354.7,1144.8 L350.7,1145.8 L344.7,1142.8 Z"/><path d="M348.7,1137.8 L348.7,1144.8"/><path d="M198.9,1058.5 L354.5,1144.8"/><path d="M199.7,1062.6 L354.5,1148.2"/><path d="M354.5,1144.8 L367,1156 L372,1162"/></g>
</g>
<g class="l">
<g transform="translate(790,1020) scale(0.201613)">
<path d="M0,258 L135,160 L140,150 L260,75 Q290,55 330,60 L655,215 Q668,228 655,235 L925,350 L945,345 L1120,428 Q1155,450 1160,480 L1160,600 L1140,610"/>
<path d="M280,80 Q300,72 325,78 L1090,438 Q1112,455 1100,478 L985,578"/>
<path d="M985,600 L1150,515"/>
<path d="M1000,690 L1150,605"/>
<path d="M1080,660 L1140,628"/>
<path d="M990,580 L990,730"/>
<path d="M800,730 Q850,745 990,735"/>
<path d="M820,700 Q850,650 900,625"/>
<path d="M520,610 L530,575 L660,640 L765,510 Q780,500 800,510 L945,572"/>
<path d="M510,625 Q520,640 545,650 L650,695 L790,560 L945,625"/>
<path d="M945,572 Q995,575 995,600 Q990,628 945,625"/>
<path d="M485,625 L500,640 L620,700"/>
<path d="M350,200 Q345,170 380,168 Q430,165 470,185 Q495,200 490,220 Q480,245 430,245 Q370,240 350,200 Z"/>
<path d="M385,230 L470,185"/>
<path d="M865,460 Q860,430 900,428 Q950,425 990,445 Q1010,460 1005,478 Q995,500 950,500 Q890,495 865,460 Z"/>
<path d="M900,490 L985,440"/>
<path d="M1060,440 L1150,485"/>
</g>
<g transform="translate(560,1040) scale(0.209688)">
<path d="M-10,806 L540,487 L1080,135 Q1110,118 1150,118"/>
<path d="M-10,836 L560,505 L1160,112 L1240,58"/>
<path d="M537,190 L537,485"/>
</g>
<g><path d="M637.7,1209.8 L849.7,1082.8 A3.2,3.2 0 0,0 846.3,1077.2 L634.3,1204.2 A3.2,3.2 0 0,0 637.7,1209.8 Z"/><path d="M776.6,1167.8 L883.6,1105.8 A3.2,3.2 0 0,0 880.4,1100.2 L773.4,1162.2 A3.2,3.2 0 0,0 776.6,1167.8 Z"/><path d="M706.9,1256.2 L880.9,1153.2 A3.8,3.8 0 0,0 877.1,1146.8 L703.1,1249.8 A3.8,3.8 0 0,0 706.9,1256.2 Z"/><path d="M671.6,1233.7 L717.6,1206.7 A3.1,3.1 0 0,0 714.4,1201.3 L668.4,1228.3 A3.1,3.1 0 0,0 671.6,1233.7 Z"/><path d="M775.5,1181.0 L775.4,1181.9 L774.9,1182.7 L774.2,1183.5 L773.3,1184.2 L772.1,1184.8 L770.8,1185.3 L769.3,1185.7 L767.7,1185.9 L766.0,1186.0 L764.4,1185.9 L762.8,1185.7 L761.3,1185.3 L759.9,1184.8 L758.7,1184.2 L757.8,1183.5 L757.1,1182.7 L756.6,1181.9 L756.5,1181.0 L756.6,1180.1 L757.1,1179.3 L757.8,1178.5 L758.7,1177.8 L759.9,1177.2 L761.2,1176.7 L762.7,1176.3 L764.3,1176.1 L766.0,1176.0 L767.6,1176.1 L769.2,1176.3 L770.7,1176.7 L772.1,1177.2 L773.3,1177.8 L774.2,1178.5 L774.9,1179.3 L775.4,1180.1 L775.5,1181.0 Z"/></g>
<g transform="translate(380,1170) scale(0.241937)">
<path d="M-40,598 L110,515 L75,440 Q80,410 110,405 L245,440 L590,240 L555,175 Q560,130 600,128 L735,162"/>
<path d="M-40,632 L735,186.7"/>
<path d="M131.0,437.0 L130.8,438.4 L130.2,439.7 L129.1,441.0 L127.7,442.1 L126.0,443.1 L124.0,443.9 L121.8,444.5 L119.4,444.9 L117.0,445.0 L114.6,444.9 L112.2,444.5 L110.0,443.9 L108.0,443.1 L106.3,442.1 L104.9,441.0 L103.8,439.7 L103.2,438.4 L103.0,437.0 L103.2,435.6 L103.8,434.3 L104.9,433.0 L106.3,431.9 L108.0,430.9 L110.0,430.1 L112.2,429.5 L114.6,429.1 L117.0,429.0 L119.4,429.1 L121.8,429.5 L124.0,430.1 L126.0,430.9 L127.7,431.8 L129.1,433.0 L130.1,434.3 L130.8,435.6 L131.0,437.0 Z"/>
<path d="M612.0,158.0 L611.8,159.4 L611.2,160.7 L610.1,162.0 L608.7,163.1 L607.0,164.1 L605.0,164.9 L602.8,165.5 L600.4,165.9 L598.0,166.0 L595.6,165.9 L593.2,165.5 L591.0,164.9 L589.0,164.1 L587.3,163.1 L585.9,162.0 L584.8,160.7 L584.2,159.4 L584.0,158.0 L584.2,156.6 L584.8,155.3 L585.9,154.0 L587.3,152.9 L589.0,151.9 L591.0,151.1 L593.2,150.5 L595.6,150.1 L598.0,150.0 L600.4,150.1 L602.8,150.5 L605.0,151.1 L607.0,151.9 L608.7,152.8 L610.1,154.0 L611.1,155.3 L611.8,156.6 L612.0,158.0 Z"/>
<path d="M240,660 L365,582"/>
<path d="M540,520 L960,285 Q985,272 1010,288 L1240,440 Q1285,450 1260,475"/>
<path d="M240,660 Q235,680 262,698 L540,862 Q565,872 592,860 L1240,500"/>
<path d="M280,690 L495,550"/>
<path d="M660,600 Q650,625 685,630 L860,540 Q892,520 880,500 Q860,485 825,500 Q795,515 785,540 Q745,552 695,572 Q660,585 660,600 Z"/>
<path d="M672,612 L868,518"/>
<path d="M1054.9,434.0 L1053.4,436.6 L1050.9,438.7 L1047.6,440.4 L1043.5,441.4 L1038.7,441.9 L1033.4,441.8 L1027.8,441.1 L1022.0,439.8 L1016.2,438.0 L1010.6,435.7 L1005.3,432.9 L1000.5,429.9 L996.4,426.6 L993.1,423.1 L990.6,419.6 L989.1,416.2 L988.6,413.0 L989.1,410.0 L990.6,407.4 L993.1,405.3 L996.4,403.7 L1000.5,402.6 L1005.3,402.1 L1010.6,402.2 L1016.2,402.9 L1022.0,404.2 L1027.8,406.0 L1033.4,408.3 L1038.7,411.1 L1043.4,414.1 L1047.6,417.4 L1050.9,420.9 L1053.4,424.3 L1054.9,427.8 L1055.4,431.0 L1054.9,433.9 Z"/>
<path d="M547.9,725.0 L546.4,727.6 L543.9,729.7 L540.6,731.4 L536.5,732.4 L531.7,732.9 L526.4,732.8 L520.8,732.1 L515.0,730.8 L509.2,729.0 L503.6,726.7 L498.3,723.9 L493.5,720.9 L489.4,717.6 L486.1,714.1 L483.6,710.6 L482.1,707.2 L481.6,704.0 L482.1,701.0 L483.6,698.4 L486.1,696.3 L489.4,694.7 L493.5,693.6 L498.3,693.1 L503.6,693.2 L509.2,693.9 L515.0,695.2 L520.8,697.0 L526.4,699.3 L531.7,702.1 L536.4,705.1 L540.6,708.4 L543.9,711.9 L546.4,715.3 L547.9,718.8 L548.4,722.0 L547.9,724.9 Z"/>
<path d="M515,695 L515,525 L900,909"/>
</g>
<g transform="translate(100,1330) scale(0.258065)">
<path d="M70,500 Q75,485 105,475 L210,430 Q215,422 222,428 L290,390 Q300,362 335,348 L960,0"/>
<path d="M70,500 L75,640"/>
<path d="M98,528 Q98,505 125,495 L300,400 L1005,0"/>
<path d="M85,529 L240,664"/>
<path d="M100,525 L405,792"/>
<path d="M75,640 L378,885"/>
<path d="M100,670 Q95,690 110,700 L370,892"/>
<path d="M405,792 L560,885 Q585,895 610,885 L720,830 L740,800 Q800,795 870,760 L1240,535"/>
<path d="M720,830 Q730,860 720,875"/>
<path d="M490,870 L520,935 Q560,960 600,960 L720,915"/>
<path d="M250,680 L270,760 L292,780"/>
<path d="M290,760 L340,730"/>
<path d="M280,940 L380,890 L385,840 Q400,830 420,840 L470,890 L480,980 L460,990 L350,1020 Z"/>
<path d="M405,880 L460,985"/>
<path d="M351.4,962.9 L350.5,963.6 L349.5,964.1 L348.4,964.5 L347.3,964.8 L346.2,964.9 L345.0,965.0 L343.8,964.9 L342.7,964.8 L341.6,964.5 L340.5,964.1 L339.5,963.6 L338.6,962.9 L337.9,962.3 L337.2,961.5 L336.7,960.7 L336.3,959.8 L336.1,958.9 L336.0,958.0 L336.1,957.1 L336.3,956.2 L336.7,955.3 L337.2,954.5 L337.9,953.7 L338.6,953.1 L339.5,952.4 L340.5,951.9 L341.6,951.5 L342.7,951.2 L343.8,951.1 L345.0,951.0 L346.2,951.1 L347.3,951.2 L348.4,951.5 L349.5,951.9 L350.5,952.4 L351.4,953.1"/>
<path d="M396.4,994.9 L395.5,995.6 L394.5,996.1 L393.4,996.5 L392.3,996.8 L391.2,996.9 L390.0,997.0 L388.8,996.9 L387.7,996.8 L386.6,996.5 L385.5,996.1 L384.5,995.6 L383.6,994.9 L382.9,994.3 L382.2,993.5 L381.7,992.7 L381.3,991.8 L381.1,990.9 L381.0,990.0 L381.1,989.1 L381.3,988.2 L381.7,987.3 L382.2,986.5 L382.9,985.7 L383.6,985.1 L384.5,984.4 L385.5,983.9 L386.6,983.5 L387.7,983.2 L388.8,983.1 L390.0,983.0 L391.2,983.1 L392.3,983.2 L393.4,983.5 L394.5,983.9 L395.5,984.4 L396.4,985.1"/>
<path d="M400,930 L420,945 L410,955"/>
<path d="M610,960 L745,910 L748,932 L620,985 Z"/>
<path d="M680,955 L740,930"/>
<path d="M215,545 Q212,520 250,518 Q300,518 320,535 Q330,560 300,572 Q250,578 225,565 Z"/>
<path d="M218,553 Q260,575 318,548"/>
<path d="M510,805 Q508,780 545,778 Q595,778 615,795 Q625,820 595,832 Q545,838 520,825 Z"/>
<path d="M514,813 Q560,835 612,808"/>
<path d="M1060,305 L1165,355"/>
<path d="M1075,290 L1178,340"/>
<path d="M1100,282 L1205,330"/>
<path d="M1115,270 L1215,318"/>
<path d="M1090,420 Q1095,400 1112,400 L1200,440 L1240,430"/>
<path d="M1080,445 L1160,490 L1240,470"/>
<path d="M1038.0,340.0 L1037.4,343.5 L1035.7,346.8 L1032.9,350.0 L1029.1,352.9 L1024.4,355.3 L1019.0,357.3 L1013.0,358.8 L1006.6,359.7 L1000.0,360.0 L993.4,359.7 L987.0,358.8 L981.0,357.3 L975.6,355.3 L970.9,352.9 L967.1,350.0 L964.3,346.9 L962.6,343.5 L962.0,340.0 L962.6,336.5 L964.3,333.2 L967.1,330.0 L970.9,327.2 L975.5,324.7 L981.0,322.7 L987.0,321.2 L993.4,320.3 L1000.0,320.0 L1006.5,320.3 L1012.9,321.2 L1019.0,322.7 L1024.4,324.7 L1029.1,327.1 L1032.9,330.0 L1035.7,333.1 L1037.4,336.5 L1038.0,340.0 Z"/>
</g>
<g><path d="M199.5,1454.9 L409.5,1343.9 A3.2,3.2 0 0,0 406.5,1338.1 L196.5,1449.1 A3.2,3.2 0 0,0 199.5,1454.9 Z"/><path d="M234.5,1477.9 L338.5,1424.9 A3.2,3.2 0 0,0 335.5,1419.1 L231.5,1472.1 A3.2,3.2 0 0,0 234.5,1477.9 Z"/><path d="M268.5,1501.9 L368.5,1451.9 A3.2,3.2 0 0,0 365.5,1446.1 L265.5,1496.1 A3.2,3.2 0 0,0 268.5,1501.9 Z"/><path d="M399.3,1387.8 L444.3,1366.8 A3.1,3.1 0 0,0 441.7,1361.2 L396.7,1382.2 A3.1,3.1 0 0,0 399.3,1387.8 Z"/><path d="M423.1,1418.8 L482.0,1390.1 A3.1,3.1 0 0,0 479.2,1384.5 L420.3,1413.2 A3.1,3.1 0 0,0 423.1,1418.8 Z"/></g>
<g><path d="M418,1465 L581.9,1367.7 L800,1237.7 L968,1140"/><path d="M430,1466 L588.2,1373 L800,1249.3 L955,1158"/><path d="M347.7,1330 L370.3,1314.7"/><path d="M359.4,1330 L370.3,1322.9"/><path d="M670,1259.8 L686.8,1271.3 L684.7,1285"/></g>
<g transform="translate(360,1290) scale(0.274198)">
<path d="M100,518 L205,572 L360,478 L490,515 Q525,525 515,548 Q505,565 478,560 L365,512 L210,605 Q195,612 180,605 L85,555 Q75,535 100,518 Z"/>
<path d="M60,570 Q70,600 160,620 L240,600"/>
<path d="M510,605 Q510,595 527,595 Q545,595 545,605 L545,660 L510,660 Z"/>
<path d="M510,620 L545,620"/>
<path d="M510,635 L545,635"/>
<path d="M510,650 L545,650"/>
<path d="M500,660 L500,690 L515,702 L545,702 L560,690 L560,660 Q530,650 500,660 Z"/>
<path d="M520,665 L520,700"/>
<path d="M542,665 L542,700"/>
<path d="M525,495 L525,585"/>
<path d="M562,672 L700,672"/>
</g>
</g>
<g class="l">
<g transform="translate(930,965) scale(0.129032)">
<path d="M470.0,135.0 L468.6,144.5 L464.6,153.8 L457.9,162.5 L449.0,170.3 L437.9,177.1 L425.0,182.6 L410.8,186.7 L395.7,189.2 L380.0,190.0 L364.4,189.2 L349.3,186.7 L335.0,182.6 L322.2,177.2 L311.1,170.4 L302.1,162.5 L295.5,153.9 L291.4,144.6 L290.0,135.0 L291.4,125.5 L295.4,116.2 L302.0,107.5 L311.0,99.7 L322.1,92.9 L334.9,87.4 L349.1,83.3 L364.3,80.8 L379.9,80.0 L395.5,80.8 L410.7,83.3 L424.9,87.3 L437.7,92.8 L448.9,99.6 L457.9,107.4 L464.5,116.1 L468.6,125.4 L470.0,134.9 Z"/>
<path d="M419.8,107.0 L423.7,109.8 L426.9,112.9 L429.4,116.2 L431.0,119.6 L431.9,123.1 L431.9,126.6 L431.1,130.1 L429.5,133.5 L427.1,136.8 L424.0,139.9 L420.2,142.8 L415.7,145.4 L410.6,147.6 L405.1,149.5 L399.2,151.0 L393.0,152.1 L386.5,152.8 L380.0,153.0 L373.5,152.8 L367.0,152.1 L360.8,151.0 L354.9,149.5 L349.4,147.6 L344.3,145.4 L339.8,142.8 L336.0,139.9 L332.9,136.8 L330.5,133.5 L328.9,130.1 L328.1,126.6 L328.1,123.1 L329.0,119.6 L330.6,116.2 L333.1,112.9 L336.3,109.8 L340.2,107.0"/>
<path d="M290,135 Q295,178 380,190 Q465,178 470,135"/>
<path d="M318,190 L318,395 Q340,420 380,420 Q420,420 442,395 L442,190"/>
<path d="M445,245 L755,245"/>
<path d="M576.0,640.0 L573.0,657.4 L564.1,674.2 L549.5,690.0 L529.7,704.3 L505.3,716.6 L477.0,726.6 L445.8,734.0 L412.5,738.5 L378.1,740.0 L343.7,738.5 L310.4,734.0 L279.1,726.6 L250.8,716.6 L226.4,704.3 L206.6,690.1 L192.0,674.3 L183.0,657.4 L180.0,640.1 L183.0,622.7 L191.9,605.9 L206.4,590.1 L226.2,575.8 L250.6,563.5 L278.8,553.5 L310.1,546.1 L343.4,541.5 L377.7,540.0 L412.1,541.5 L445.5,546.0 L476.8,553.3 L505.0,563.3 L529.5,575.6 L549.3,589.9 L563.9,605.6 L572.9,622.5 L576.0,639.8 Z"/>
<path d="M474.6,626.5 L476.7,631.7 L477.8,637.0 L477.9,642.3 L476.9,647.5 L475.0,652.7 L472.0,657.8 L468.0,662.7 L463.1,667.3 L457.3,671.7 L450.7,675.7 L443.4,679.3 L435.4,682.6 L426.7,685.4 L417.6,687.7 L408.1,689.6 L398.2,690.9 L388.2,691.7 L378.0,692.0 L367.8,691.7 L357.8,690.9 L347.9,689.6 L338.4,687.7 L329.3,685.4 L320.6,682.6 L312.6,679.3 L305.3,675.7 L298.7,671.7 L292.9,667.3 L288.0,662.7 L284.0,657.8 L281.0,652.7 L279.1,647.5 L278.1,642.3 L278.2,637.0 L279.3,631.7 L281.4,626.5"/>
<path d="M448.0,652.0 L446.9,658.2 L443.8,664.3 L438.6,670.0 L431.6,675.1 L423.0,679.6 L413.0,683.2 L402.0,685.8 L390.2,687.5 L378.0,688.0 L365.9,687.5 L354.1,685.8 L343.0,683.2 L333.0,679.6 L324.4,675.2 L317.4,670.0 L312.2,664.3 L309.1,658.3 L308.0,652.0 L309.1,645.8 L312.2,639.7 L317.3,634.0 L324.3,628.9 L332.9,624.4 L342.9,620.8 L354.0,618.2 L365.8,616.6 L377.9,616.0 L390.1,616.5 L401.8,618.2 L412.9,620.8 L422.9,624.4 L431.6,628.8 L438.6,634.0 L443.7,639.6 L446.9,645.7 L448.0,651.9 Z"/>
<path d="M423.0,664.0 L422.3,667.8 L420.3,671.5 L417.0,675.0 L412.5,678.1 L406.9,680.8 L400.5,683.0 L393.4,684.7 L385.8,685.7 L378.0,686.0 L370.2,685.7 L362.6,684.7 L355.5,683.1 L349.1,680.9 L343.5,678.2 L339.0,675.0 L335.7,671.5 L333.7,667.8 L333.0,664.0 L333.7,660.2 L335.7,656.5 L339.0,653.0 L343.5,649.9 L349.0,647.2 L355.5,645.0 L362.6,643.3 L370.1,642.3 L377.9,642.0 L385.8,642.3 L393.3,643.3 L400.4,644.9 L406.9,647.1 L412.4,649.8 L416.9,653.0 L420.3,656.4 L422.3,660.1 L423.0,664.0 Z"/>
<path d="M250,710 Q230,690 215,660"/>
<path d="M500,700 Q530,690 545,665"/>
<path d="M180,650 L180,740 Q200,835 380,852 Q560,835 578,740 L578,650"/>
<path d="M183,715 Q220,795 380,805 Q540,795 576,715"/>
<path d="M580,682 L875,682"/>
</g>
<g transform="translate(930,1170) scale(0.129032)">
<path d="M602.0,200.0 L598.6,219.4 L588.6,238.3 L572.3,256.0 L550.1,272.0 L522.7,285.8 L491.1,297.0 L456.0,305.2 L418.6,310.3 L380.1,312.0 L341.6,310.3 L304.2,305.3 L269.1,297.0 L237.4,285.8 L210.0,272.1 L187.8,256.1 L171.4,238.4 L161.4,219.5 L158.0,200.1 L161.3,180.7 L171.3,161.8 L187.6,144.1 L209.8,128.1 L237.1,114.3 L268.8,103.1 L303.8,94.8 L341.2,89.7 L379.7,88.0 L418.3,89.7 L455.6,94.7 L490.7,102.9 L522.4,114.1 L549.8,127.9 L572.1,143.8 L588.5,161.5 L598.6,180.4 L602.0,199.8 Z"/>
<path d="M533.0,210.0 L530.8,225.3 L524.1,240.1 L513.2,254.0 L498.4,266.6 L480.2,277.4 L459.0,286.2 L435.7,292.7 L410.8,296.7 L385.1,298.0 L359.4,296.7 L334.5,292.7 L311.1,286.2 L289.9,277.4 L271.7,266.6 L256.9,254.1 L246.0,240.2 L239.3,225.4 L237.0,210.1 L239.2,194.8 L245.9,180.0 L256.8,166.1 L271.5,153.5 L289.7,142.7 L310.9,133.8 L334.2,127.3 L359.1,123.4 L384.8,122.0 L410.5,123.3 L435.4,127.3 L458.8,133.7 L480.0,142.5 L498.2,153.3 L513.1,165.9 L524.0,179.8 L530.7,194.6 L533.0,209.8 Z"/>
<path d="M276.7,170.0 L286.9,161.6 L299.2,154.1 L313.3,147.7 L328.9,142.4 L345.7,138.6 L363.3,136.1 L381.4,135.0 L399.5,135.5 L417.4,137.4 L434.5,140.7 L450.6,145.4 L465.3,151.4 L478.4,158.5 L489.4,166.5 L498.3,175.4 L504.7,184.9 L508.7,194.9 L510.0,205.0 L508.7,215.1 L504.7,225.1 L498.3,234.6 L489.4,243.5 L478.4,251.5 L465.3,258.6 L450.6,264.6 L434.5,269.3 L417.4,272.6 L399.5,274.5 L381.4,275.0 L363.3,273.9 L345.7,271.4 L328.9,267.6 L313.3,262.3 L299.2,255.9 L286.9,248.4 L276.7,240.0"/>
<path d="M418.6,160.9 L424.4,164.5 L429.5,168.5 L433.6,172.9 L436.8,177.7 L438.9,182.7 L439.9,187.8 L439.8,192.9 L438.6,198.0 L436.4,203.0 L433.1,207.7 L428.8,212.1 L423.6,216.1 L417.7,219.6 L411.0,222.5 L403.8,224.9 L396.1,226.6 L388.1,227.7 L380.0,228.0 L371.9,227.7 L363.9,226.6 L356.2,224.9 L349.0,222.5 L342.3,219.6 L336.4,216.1 L331.2,212.1 L326.9,207.7 L323.6,203.0 L321.4,198.0 L320.2,192.9 L320.1,187.8 L321.1,182.7 L323.2,177.7 L326.4,172.9 L330.5,168.5 L335.6,164.5 L341.4,160.9"/>
<path d="M158,205 L158,360 Q200,472 380,476 Q560,472 602,360 L602,205"/>
<path d="M200,270 Q210,295 225,305"/>
<path d="M560,270 Q550,295 535,305"/>
<path d="M605,290 L905,290"/>
<path d="M330,600 Q330,560 375,552 Q418,560 418,600 L418,1065 Q400,1085 375,1085 Q345,1085 330,1065 Z"/>
<path d="M332,625 L416,620"/>
<path d="M332,650 L416,645"/>
<path d="M332,675 L416,670"/>
<path d="M332,700 L416,695"/>
<path d="M332,725 L416,720"/>
<path d="M332,750 L416,745"/>
<path d="M332,775 L416,770"/>
<path d="M332,800 L416,795"/>
<path d="M332,825 L416,820"/>
<path d="M332,850 L416,845"/>
<path d="M332,875 L416,870"/>
<path d="M332,900 L416,895"/>
<path d="M345,585 L405,582"/>
<path d="M330,950 Q190,965 172,1050 Q172,1120 230,1150 L280,1200 Q320,1222 375,1225 Q430,1222 470,1200 L520,1150 Q578,1120 580,1050 Q570,960 418,950"/>
<path d="M190,1110 Q375,1200 570,1110"/>
<path d="M585,1055 L885,1055"/>
</g>
<g transform="translate(790,1295) scale(0.096777)">
<path d="M350,195 Q380,160 430,140 L510,88 Q545,70 580,95 L700,178 Q720,200 760,215 L950,340 Q990,335 1010,345 L1115,405 Q1142,425 1140,460 L1140,650 Q1135,690 1100,712 L1000,765 Q975,780 965,805 L815,1135"/>
<path d="M350,200 L355,220 Q400,260 440,262 Q470,290 500,330 L740,480 Q770,495 790,482 L880,530 Q900,540 930,530 L1090,440 Q1120,440 1120,470 L1120,640 Q1115,680 1085,695 L990,745 Q960,760 950,790 L800,1125"/>
<path d="M470,240 L630,150"/>
<path d="M520,290 L680,200"/>
<path d="M660,410 L760,470"/>
<path d="M810,455 L950,345"/>
<path d="M1080,580 Q1100,600 1100,630 Q1090,670 1060,690 L990,730 Q940,760 930,800 L795,1110"/>
<path d="M1020,760 L1020,1080 L990,1110 L680,1292"/>
<path d="M1045,760 L1045,1100 L1010,1130 L710,1292"/>
<path d="M0,600 L130,530 Q180,510 220,530 L640,760 Q690,790 700,840 L720,920 Q725,960 680,985 L460,1100"/>
<path d="M130,530 L150,470 L200,390 L250,360 L400,270"/>
<path d="M200,420 L440,550"/>
<path d="M560,620 L790,750"/>
<path d="M640,820 L320,1000"/>
<path d="M120,1130 L0,1190"/>
<path d="M470,1100 L720,980 L800,950"/>
<path d="M460,1150 L580,1200"/>
<path d="M620,1050 L790,1150"/>
<path d="M720,1010 L780,1040 L800,1100"/>
<path d="M820,830 L900,860"/>
<path d="M900,1020 L990,1060"/>
<path d="M226.8,807.0 L229.4,809.8 L231.6,812.9 L233.2,816.2 L234.3,819.6 L234.9,823.1 L234.9,826.6 L234.4,830.1 L233.3,833.5 L231.7,836.8 L229.6,839.9 L227.0,842.8 L224.0,845.4 L220.6,847.6 L216.9,849.5 L212.9,851.0 L208.7,852.1 L204.4,852.8 L200.0,853.0 L195.6,852.8 L191.3,852.1 L187.1,851.0 L183.1,849.5 L179.4,847.6 L176.0,845.4 L173.0,842.8 L170.4,839.9 L168.3,836.8 L166.7,833.5 L165.6,830.1 L165.1,826.6 L165.1,823.1 L165.7,819.6 L166.8,816.2 L168.4,812.9 L170.6,809.8 L173.2,807.0"/>
<path class="dsh" d="M195,910 L195,1777"/>
<path d="M1050,890 L1467,890"/>
</g>
<g transform="translate(660,1370) scale(0.112905)">
<path d="M200,580 Q120,560 110,480 L115,300 Q125,240 180,215 L285,160 Q330,150 365,175 L410,205"/>
<path d="M410,205 Q430,185 460,185 L655,300"/>
<path d="M500,720 L500,520 Q510,470 560,450 L680,385 Q720,375 760,410 L780,440 Q770,460 740,470 L660,510 Q620,540 620,600 L615,780 Q600,800 570,790 Q520,770 500,720"/>
<path d="M275,280 L400,225"/>
<path d="M300,305 L420,250"/>
<path d="M310,380 L500,470"/>
<path d="M210,390 L210,560"/>
<path d="M265,380 L265,540"/>
<path d="M660,500 L780,440"/>
<path d="M200,580 L210,800 L650,1070"/>
<path d="M250,590 L500,700"/>
<path d="M620,610 L620,760 L650,790 L650,1060 L680,1075 L1240,740"/>
<path d="M670,790 L670,1030 L1240,710"/>
<path d="M630,600 L750,660 L1000,520 L1070,550 L1240,460"/>
<path d="M640,640 L740,710 L870,880 L910,870 L1010,530"/>
<path d="M720,700 L760,690 L880,860"/>
<path d="M920,720 L1020,780 L1020,800 L900,860"/>
<path d="M560,210 Q570,190 600,180 L900,0"/>
<path d="M560,215 L990,440 L1080,470"/>
<path d="M610,235 L960,430"/>
<path d="M1040,410 L1240,300"/>
<path d="M980,650 L1240,510"/>
</g>
<g transform="translate(660,1290) scale(0.241955)">
<path d="M600,745 Q600,735 617,735 Q635,735 635,745 L635,820 L600,820 Z"/>
<path d="M600,760 L635,760"/>
<path d="M600,780 L635,780"/>
<path d="M600,800 L635,800"/>
<path d="M580,825 L582,865 L600,880 L635,880 L652,865 L650,825 Q615,812 580,825 Z"/>
<path d="M600,830 L600,878"/>
<path d="M632,830 L632,878"/>
<path d="M652,830 L815,830"/>
<path d="M405,840 L405,1062"/>
<path d="M260,425 L540,268"/>
<path d="M490,590 Q505,598 520,590 L735,470"/>
<path d="M490,530 L555,500"/>
<path d="M440,545 L470,532"/>
<path d="M460.6,460.6 L458.4,461.9 L456.0,463.0 L453.4,463.9 L450.7,464.5 L447.9,464.9 L445.0,465.0 L442.1,464.9 L439.3,464.5 L436.6,463.9 L434.0,463.0 L431.6,461.9 L429.4,460.6 L427.5,459.1 L425.9,457.5 L424.7,455.7 L423.7,453.9 L423.2,452.0 L423.0,450.0 L423.2,448.0 L423.7,446.1 L424.7,444.3 L425.9,442.5 L427.5,440.9 L429.4,439.4 L431.6,438.1 L434.0,437.0 L436.6,436.1 L439.3,435.5 L442.1,435.1 L445.0,435.0 L447.9,435.1 L450.7,435.5 L453.4,436.1 L456.0,437.0 L458.4,438.1 L460.6,439.4"/>
</g>
<g><path d="M800,1453.5 L855.8,1420"/><path d="M800,1450.2 L858.7,1417"/><path d="M800,1421.9 L835,1402"/></g>
</g>
<g class="l">
<g transform="translate(50,400) scale(0.120963)">
<path d="M718,292 L718,188 Q748,165 780,188 L780,292"/>
<path d="M718,210 L780,205"/>
<path d="M718,235 L780,230"/>
<path d="M718,260 L780,255"/>
<path d="M718,282 L780,278"/>
<path d="M818.0,305.0 L817.0,309.2 L813.9,313.2 L808.9,317.0 L802.1,320.4 L793.7,323.4 L784.0,325.8 L773.3,327.5 L761.8,328.6 L750.0,329.0 L738.2,328.6 L726.8,327.6 L716.0,325.8 L706.3,323.4 L697.9,320.4 L691.1,317.0 L686.1,313.2 L683.0,309.2 L682.0,305.0 L683.0,300.9 L686.1,296.8 L691.1,293.0 L697.9,289.6 L706.2,286.6 L715.9,284.2 L726.7,282.5 L738.1,281.4 L749.9,281.0 L761.7,281.4 L773.2,282.4 L783.9,284.2 L793.6,286.6 L802.0,289.5 L808.8,293.0 L813.9,296.8 L816.9,300.8 L818.0,305.0 Z"/>
<path d="M695,318 L700,365 L725,387 L780,387 L805,365 L805,318"/>
<path d="M725,330 L725,385"/>
<path d="M778,330 L778,385"/>
<path d="M355,312 L682,312"/>
</g>
<g transform="translate(380,280) scale(0.258065)">
<path d="M145,850 L145,812 Q160,790 175,812 L175,850"/>
<path d="M148,825 L172,825"/>
<path d="M202.0,860.0 L201.4,863.1 L199.5,866.2 L196.4,869.0 L192.2,871.6 L187.0,873.8 L181.0,875.6 L174.4,876.9 L167.3,877.7 L160.0,878.0 L152.7,877.7 L145.7,876.9 L139.0,875.6 L133.0,873.8 L127.8,871.6 L123.6,869.0 L120.5,866.2 L118.6,863.1 L118.0,860.0 L118.6,856.9 L120.5,853.9 L123.6,851.0 L127.8,848.4 L133.0,846.2 L139.0,844.4 L145.6,843.1 L152.7,842.3 L159.9,842.0 L167.2,842.3 L174.3,843.1 L180.9,844.4 L186.9,846.2 L192.1,848.4 L196.3,851.0 L199.4,853.8 L201.3,856.8 L202.0,860.0 Z"/>
<path d="M122,866 Q128,905 160,912 Q195,905 200,866"/>
<path d="M185.0,895.0 L184.9,895.9 L184.6,896.7 L184.1,897.6 L183.5,898.4 L182.7,899.2 L181.7,900.0 L180.5,900.7 L179.2,901.4 L177.7,902.1 L176.1,902.7 L174.3,903.2 L172.5,903.7 L170.6,904.1 L168.6,904.4 L166.5,904.7 L164.3,904.8 L162.2,905.0 L160.0,905.0 L157.8,905.0 L155.7,904.8 L153.5,904.7 L151.4,904.4 L149.4,904.1 L147.5,903.7 L145.7,903.2 L143.9,902.7 L142.3,902.1 L140.8,901.4 L139.5,900.7 L138.3,900.0 L137.3,899.2 L136.5,898.4 L135.9,897.6 L135.4,896.7 L135.1,895.9 L135.0,895.0"/>
<path d="M202,862 L355,862"/>
</g>
<g><path d="M359.4,810 L359.4,843"/><path d="M370,1276.3 L397,1289"/><path d="M597.7,1390 L636,1428"/><path d="M640,1432 L644,1436"/><path d="M648,1440 L758,1547"/></g>
</g>
<g id="labels">
<text transform="translate(329.00,170.10) scale(0.18919,0.20857)" font-size="100">24</text>
<text transform="translate(952.00,301.69) scale(0.18378,0.20563)" font-size="100">10</text>
<text transform="translate(984.00,353.89) scale(0.15714,0.20423)" font-size="100">3</text>
<text transform="translate(1057.40,489.79) scale(0.16250,0.22000)" font-size="100">2</text>
<text transform="translate(1034.80,575.39) scale(0.18214,0.20986)" font-size="100">8</text>
<text transform="translate(851.90,599.71) scale(0.16250,0.19296)" font-size="100">6</text>
<text transform="translate(63.90,445.69) scale(0.19640,0.20845)" font-size="100">25</text>
<text transform="translate(476.80,510.67) scale(0.19730,0.21831)" font-size="100">26</text>
<text transform="translate(230.20,521.30) scale(0.16964,0.20000)" font-size="100">9</text>
<text transform="translate(361.60,590.00) scale(0.16071,0.20000)" font-size="100">5</text>
<text transform="translate(156.00,639.19) scale(0.19550,0.20423)" font-size="100">10</text>
<text transform="translate(463.70,740.20) scale(0.20893,0.19855)" font-size="100">4</text>
<text transform="translate(353.80,864.79) scale(0.17857,0.21159)" font-size="100">7</text>
<text transform="translate(99.80,869.11) scale(0.16826,0.18696)" font-size="100">1</text>
<text transform="translate(125.80,961.73) scale(0.16607,0.18310)" font-size="100">8</text>
<text transform="translate(351.90,932.49) scale(0.18919,0.20563)" font-size="100">16</text>
<text transform="translate(135.20,1010.37) scale(0.18739,0.22113)" font-size="100">18</text>
<text transform="translate(115.20,1266.40) scale(0.17658,0.20580)" font-size="100">17</text>
<text transform="translate(110.90,1301.00) scale(0.19640,0.19859)" font-size="100">23</text>
<text transform="translate(263.30,1302.08) scale(0.19640,0.21408)" font-size="100">20</text>
<text transform="translate(662.30,1073.21) scale(0.17387,0.19286)" font-size="100">15</text>
<text transform="translate(1033.90,1004.10) scale(0.17387,0.20000)" font-size="100">13</text>
<text transform="translate(1049.40,1060.40) scale(0.18018,0.20286)" font-size="100">12</text>
<text transform="translate(1053.20,1215.69) scale(0.16154,0.21449)" font-size="100">11</text>
<text transform="translate(1050.60,1314.20) scale(0.18018,0.20000)" font-size="100">19</text>
<text transform="translate(937.00,1388.91) scale(0.18559,0.18841)" font-size="100">14</text>
<text transform="translate(557.40,1483.19) scale(0.18559,0.21571)" font-size="100">21</text>
<text transform="translate(862.00,1499.20) scale(0.19640,0.20714)" font-size="100">22</text>
</g>
</svg>
</body></html>
